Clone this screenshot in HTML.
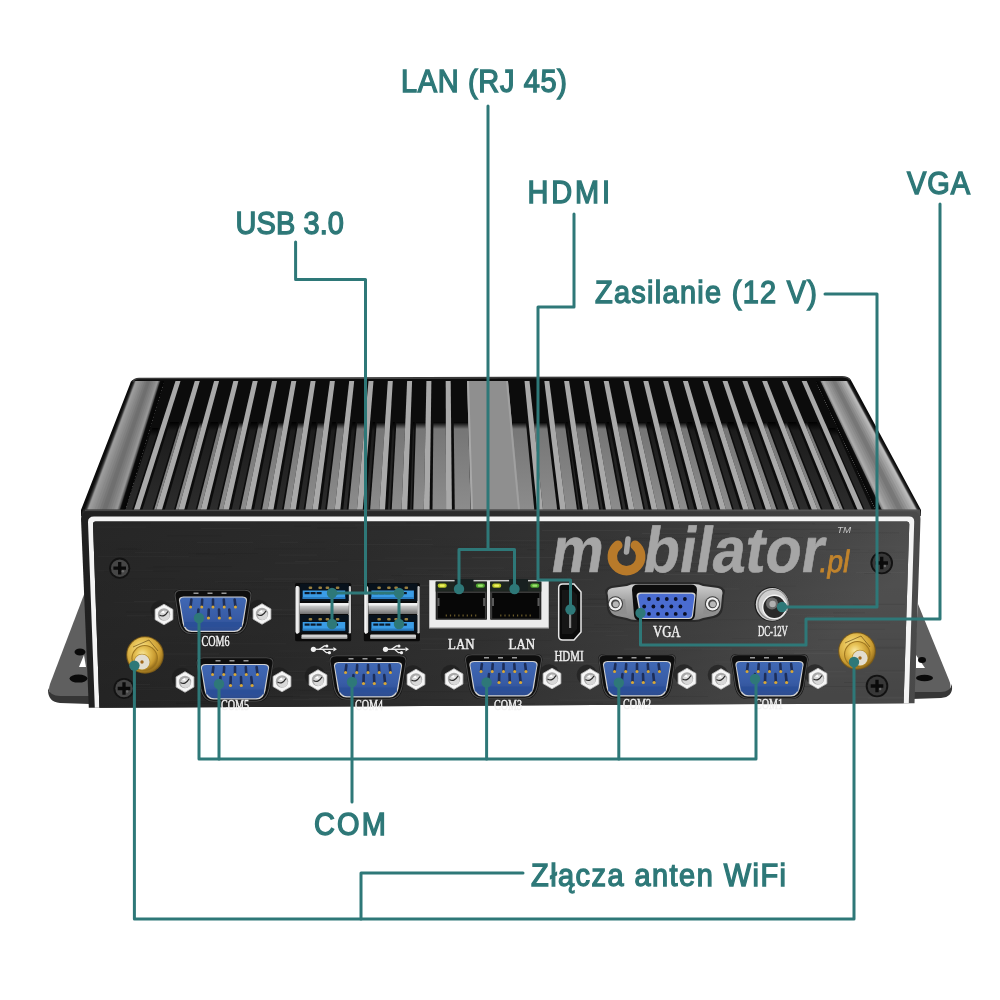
<!DOCTYPE html>
<html><head><meta charset="utf-8"><style>
html,body{margin:0;padding:0;background:#fff;width:1000px;height:1000px;overflow:hidden}
svg{display:block;will-change:transform}
</style></head><body>
<svg width="1000" height="1000" viewBox="0 0 1000 1000">
<defs>
<linearGradient id="gPanel" x1="0" y1="0" x2="1" y2="0">
 <stop offset="0" stop-color="#232323"/>
 <stop offset="0.45" stop-color="#303030"/>
 <stop offset="0.75" stop-color="#3e3e3e"/>
 <stop offset="1" stop-color="#4a4a4a"/>
</linearGradient>
<linearGradient id="gEdgeL" x1="0" y1="0" x2="1" y2="0">
 <stop offset="0" stop-color="#111"/>
 <stop offset="0.12" stop-color="#3a3a3a"/>
 <stop offset="0.45" stop-color="#9a9a9a"/>
 <stop offset="0.7" stop-color="#5a5a5a"/>
 <stop offset="0.85" stop-color="#1a1a1a"/>
 <stop offset="1" stop-color="#050505"/>
</linearGradient>
<linearGradient id="gEdgeR" x1="0" y1="0" x2="1" y2="0">
 <stop offset="0" stop-color="#050505"/>
 <stop offset="0.15" stop-color="#1a1a1a"/>
 <stop offset="0.35" stop-color="#8a8a8a"/>
 <stop offset="0.6" stop-color="#a5a5a5"/>
 <stop offset="0.85" stop-color="#3a3a3a"/>
 <stop offset="1" stop-color="#111"/>
</linearGradient>
<linearGradient id="gBlue" x1="0" y1="0" x2="0" y2="1">
 <stop offset="0" stop-color="#4068b4"/>
 <stop offset="0.6" stop-color="#385ca6"/>
 <stop offset="1" stop-color="#2c4c90"/>
</linearGradient>
<linearGradient id="gUsb" x1="0" y1="0" x2="0" y2="1">
 <stop offset="0" stop-color="#3aa0e8"/>
 <stop offset="1" stop-color="#2a7fc8"/>
</linearGradient>
<radialGradient id="gGold" cx="0.45" cy="0.4" r="0.6">
 <stop offset="0" stop-color="#f4e08a"/>
 <stop offset="0.5" stop-color="#d4b040"/>
 <stop offset="1" stop-color="#9a7a20"/>
</radialGradient>
<radialGradient id="gNut" cx="0.45" cy="0.45" r="0.6">
 <stop offset="0" stop-color="#ffffff"/>
 <stop offset="0.6" stop-color="#d8d8d8"/>
 <stop offset="1" stop-color="#8a8a8a"/>
</radialGradient>
<linearGradient id="gSilver" x1="0" y1="0" x2="0" y2="1">
 <stop offset="0" stop-color="#e8e8e8"/>
 <stop offset="0.5" stop-color="#b0b0b0"/>
 <stop offset="1" stop-color="#707070"/>
</linearGradient>
<linearGradient id="gBracket" x1="0" y1="0" x2="0" y2="1">
 <stop offset="0" stop-color="#4a4a4a"/>
 <stop offset="1" stop-color="#6a6a6a"/>
</linearGradient>
</defs>
<rect x="0" y="0" width="1000" height="1000" fill="#ffffff"/>
<path d="M85,592 L50,684 Q46,696 58,697 L90,697 Z" fill="#5f5f5f"/>
<path d="M48,690 Q48,702 60,703 L90,704 L90,696 L60,696 Q50,696 48,688 Z" fill="#363636"/>
<path d="M84,655 L79,667 L86,667 Z" fill="#ffffff"/>
<ellipse cx="80" cy="652" rx="5.5" ry="3.5" fill="#0a0a0a"/>
<ellipse cx="78.5" cy="678.6" rx="9" ry="4" fill="#0a0a0a"/>
<path d="M918,604 L949,680 Q954,692 942,693 L912,693 Z" fill="#5f5f5f"/>
<path d="M952,686 Q953,697 941,698 L912,699 L912,692 L941,692 Q950,692 952,684 Z" fill="#363636"/>
<path d="M916,655 L925,668 L916,668 Z" fill="#ffffff"/>
<ellipse cx="922" cy="660" rx="4" ry="3" fill="#0a0a0a"/>
<ellipse cx="924.5" cy="678" rx="8.5" ry="3.2" fill="#0a0a0a"/>
<path d="M130,384 Q131,379 137,379 L843,377 Q850,377 852,382 L921,510 L921,516 L81,516 L81,510 Z" fill="#0c0c0c"/>
<linearGradient id="gMed" x1="0" y1="0" x2="0" y2="1"><stop offset="0" stop-color="#000"/><stop offset="0.08" stop-color="#767676"/><stop offset="1" stop-color="#8c8c8c"/></linearGradient>
<linearGradient id="gDark" x1="0" y1="0" x2="0" y2="1"><stop offset="0" stop-color="#000"/><stop offset="0.1" stop-color="#1c1c1c"/><stop offset="1" stop-color="#2c2c2c"/></linearGradient>
<polygon points="170.1,422.0 179.0,422.0 152.3,510.0 142.4,510.0" fill="url(#gDark)" />
<polygon points="180.6,422.0 182.5,422.0 156.1,510.0 154.0,510.0" fill="url(#gMed)" />
<polygon points="190.4,422.0 198.6,422.0 173.9,510.0 164.8,510.0" fill="url(#gDark)" />
<polygon points="200.2,422.0 202.8,422.0 178.4,510.0 175.6,510.0" fill="url(#gMed)" />
<polygon points="210.6,422.0 218.3,422.0 195.5,510.0 187.1,510.0" fill="url(#gDark)" />
<polygon points="219.8,422.0 223.0,422.0 200.7,510.0 197.2,510.0" fill="url(#gMed)" />
<polygon points="230.9,422.0 237.9,422.0 217.1,510.0 209.4,510.0" fill="url(#gDark)" />
<polygon points="239.5,422.0 243.3,422.0 223.0,510.0 218.8,510.0" fill="url(#gMed)" />
<polygon points="251.1,422.0 257.5,422.0 238.7,510.0 231.7,510.0" fill="url(#gDark)" />
<polygon points="259.1,422.0 263.5,422.0 245.3,510.0 240.4,510.0" fill="url(#gMed)" />
<polygon points="271.4,422.0 277.1,422.0 260.3,510.0 254.0,510.0" fill="url(#gDark)" />
<polygon points="278.7,422.0 283.8,422.0 267.6,510.0 262.0,510.0" fill="url(#gMed)" />
<polygon points="291.7,422.0 296.7,422.0 281.9,510.0 276.3,510.0" fill="url(#gDark)" />
<polygon points="298.3,422.0 304.0,422.0 289.9,510.0 283.7,510.0" fill="url(#gMed)" />
<polygon points="311.9,422.0 316.4,422.0 303.5,510.0 298.6,510.0" fill="url(#gDark)" />
<polygon points="317.9,422.0 324.3,422.0 312.3,510.0 305.3,510.0" fill="url(#gMed)" />
<polygon points="332.2,422.0 336.0,422.0 325.1,510.0 320.9,510.0" fill="url(#gDark)" />
<polygon points="337.6,422.0 344.5,422.0 334.6,510.0 326.9,510.0" fill="url(#gMed)" />
<polygon points="352.4,422.0 355.6,422.0 346.7,510.0 343.2,510.0" fill="url(#gDark)" />
<polygon points="357.2,422.0 364.8,422.0 356.9,510.0 348.5,510.0" fill="url(#gMed)" />
<polygon points="372.7,422.0 375.2,422.0 368.4,510.0 365.5,510.0" fill="url(#gDark)" />
<polygon points="376.8,422.0 385.1,422.0 379.2,510.0 370.1,510.0" fill="url(#gMed)" />
<polygon points="392.9,422.0 394.8,422.0 390.0,510.0 387.9,510.0" fill="url(#gDark)" />
<polygon points="396.4,422.0 405.3,422.0 401.5,510.0 391.7,510.0" fill="url(#gMed)" />
<polygon points="413.2,422.0 414.5,422.0 411.6,510.0 410.2,510.0" fill="url(#gDark)" />
<polygon points="416.0,422.0 425.6,422.0 423.8,510.0 413.3,510.0" fill="url(#gMed)" />
<polygon points="433.4,422.0 445.8,422.0 446.1,510.0 432.5,510.0" fill="url(#gMed)" />
<polygon points="453.7,422.0 468.2,422.0 470.7,510.0 454.8,510.0" fill="url(#gMed)" />
<polygon points="175.5,381.0 180.5,381.0 139.6,510.0 133.8,510.0" fill="#a9a9a9" />
<polygon points="194.8,381.0 199.8,381.0 161.9,510.0 156.1,510.0" fill="#a9a9a9" />
<polygon points="214.1,381.0 219.1,381.0 184.2,510.0 178.4,510.0" fill="#a9a9a9" />
<polygon points="233.4,381.0 238.4,381.0 206.5,510.0 200.7,510.0" fill="#a9a9a9" />
<polygon points="252.7,381.0 257.7,381.0 228.8,510.0 223.0,510.0" fill="#a9a9a9" />
<polygon points="272.0,381.0 277.0,381.0 251.1,510.0 245.3,510.0" fill="#a9a9a9" />
<polygon points="291.3,381.0 296.3,381.0 273.4,510.0 267.6,510.0" fill="#a9a9a9" />
<polygon points="310.6,381.0 315.6,381.0 295.7,510.0 289.9,510.0" fill="#a9a9a9" />
<polygon points="329.9,381.0 334.9,381.0 318.0,510.0 312.3,510.0" fill="#a9a9a9" />
<polygon points="349.2,381.0 354.2,381.0 340.3,510.0 334.6,510.0" fill="#a9a9a9" />
<polygon points="368.5,381.0 373.5,381.0 362.7,510.0 356.9,510.0" fill="#a9a9a9" />
<polygon points="387.8,381.0 392.8,381.0 385.0,510.0 379.2,510.0" fill="#a9a9a9" />
<polygon points="407.1,381.0 412.1,381.0 407.3,510.0 401.5,510.0" fill="#a9a9a9" />
<polygon points="426.4,381.0 431.4,381.0 429.6,510.0 423.8,510.0" fill="#a9a9a9" />
<polygon points="445.7,381.0 450.7,381.0 451.9,510.0 446.1,510.0" fill="#a9a9a9" />
<polygon points="152.4,428.0 158.7,428.0 132.0,510.0 125.1,510.0" fill="url(#gDark)" />
<polygon points="511.2,422.0 525.9,422.0 534.3,510.0 518.1,510.0" fill="url(#gMed)" />
<polygon points="533.8,422.0 546.7,422.0 557.2,510.0 543.0,510.0" fill="url(#gMed)" />
<polygon points="566.2,422.0 567.5,422.0 580.1,510.0 578.7,510.0" fill="url(#gDark)" />
<polygon points="554.6,422.0 564.6,422.0 577.0,510.0 565.9,510.0" fill="url(#gMed)" />
<polygon points="586.4,422.0 588.3,422.0 603.0,510.0 600.9,510.0" fill="url(#gDark)" />
<polygon points="575.4,422.0 584.8,422.0 599.2,510.0 588.8,510.0" fill="url(#gMed)" />
<polygon points="606.5,422.0 609.0,422.0 625.9,510.0 623.1,510.0" fill="url(#gDark)" />
<polygon points="596.1,422.0 604.9,422.0 621.3,510.0 611.7,510.0" fill="url(#gMed)" />
<polygon points="626.6,422.0 629.8,422.0 648.8,510.0 645.3,510.0" fill="url(#gDark)" />
<polygon points="616.9,422.0 625.1,422.0 643.5,510.0 634.5,510.0" fill="url(#gMed)" />
<polygon points="646.8,422.0 650.6,422.0 671.7,510.0 667.4,510.0" fill="url(#gDark)" />
<polygon points="637.7,422.0 645.2,422.0 665.7,510.0 657.4,510.0" fill="url(#gMed)" />
<polygon points="666.9,422.0 671.4,422.0 694.5,510.0 689.6,510.0" fill="url(#gDark)" />
<polygon points="658.5,422.0 665.4,422.0 687.9,510.0 680.3,510.0" fill="url(#gMed)" />
<polygon points="687.1,422.0 692.2,422.0 717.4,510.0 711.8,510.0" fill="url(#gDark)" />
<polygon points="679.3,422.0 685.5,422.0 710.1,510.0 703.2,510.0" fill="url(#gMed)" />
<polygon points="707.2,422.0 713.0,422.0 740.3,510.0 734.0,510.0" fill="url(#gDark)" />
<polygon points="700.0,422.0 705.6,422.0 732.3,510.0 726.1,510.0" fill="url(#gMed)" />
<polygon points="727.4,422.0 733.7,422.0 763.2,510.0 756.2,510.0" fill="url(#gDark)" />
<polygon points="720.8,422.0 725.8,422.0 754.5,510.0 749.0,510.0" fill="url(#gMed)" />
<polygon points="747.5,422.0 754.5,422.0 786.1,510.0 778.4,510.0" fill="url(#gDark)" />
<polygon points="741.6,422.0 745.9,422.0 776.6,510.0 771.9,510.0" fill="url(#gMed)" />
<polygon points="767.7,422.0 775.3,422.0 809.0,510.0 800.6,510.0" fill="url(#gDark)" />
<polygon points="762.4,422.0 766.1,422.0 798.8,510.0 794.8,510.0" fill="url(#gMed)" />
<polygon points="787.8,422.0 796.1,422.0 831.9,510.0 822.8,510.0" fill="url(#gDark)" />
<polygon points="783.2,422.0 786.2,422.0 821.0,510.0 817.7,510.0" fill="url(#gMed)" />
<polygon points="807.9,422.0 816.9,422.0 854.8,510.0 844.9,510.0" fill="url(#gDark)" />
<polygon points="804.0,422.0 806.4,422.0 843.2,510.0 840.5,510.0" fill="url(#gMed)" />
<polygon points="524.5,381.0 529.5,381.0 543.0,510.0 537.2,510.0" fill="#a9a9a9" />
<polygon points="544.3,381.0 549.3,381.0 565.9,510.0 560.1,510.0" fill="#a9a9a9" />
<polygon points="564.1,381.0 569.1,381.0 588.8,510.0 583.0,510.0" fill="#a9a9a9" />
<polygon points="583.9,381.0 588.9,381.0 611.7,510.0 605.9,510.0" fill="#a9a9a9" />
<polygon points="603.7,381.0 608.7,381.0 634.5,510.0 628.8,510.0" fill="#a9a9a9" />
<polygon points="623.5,381.0 628.5,381.0 657.4,510.0 651.7,510.0" fill="#a9a9a9" />
<polygon points="643.3,381.0 648.3,381.0 680.3,510.0 674.5,510.0" fill="#a9a9a9" />
<polygon points="663.1,381.0 668.1,381.0 703.2,510.0 697.4,510.0" fill="#a9a9a9" />
<polygon points="682.9,381.0 687.9,381.0 726.1,510.0 720.3,510.0" fill="#a9a9a9" />
<polygon points="702.7,381.0 707.7,381.0 749.0,510.0 743.2,510.0" fill="#a9a9a9" />
<polygon points="722.5,381.0 727.5,381.0 771.9,510.0 766.1,510.0" fill="#a9a9a9" />
<polygon points="742.3,381.0 747.3,381.0 794.8,510.0 789.0,510.0" fill="#a9a9a9" />
<polygon points="762.1,381.0 767.1,381.0 817.7,510.0 811.9,510.0" fill="#a9a9a9" />
<polygon points="781.9,381.0 786.9,381.0 840.5,510.0 834.8,510.0" fill="#a9a9a9" />
<polygon points="801.7,381.0 806.7,381.0 863.4,510.0 857.7,510.0" fill="#a9a9a9" />
<polygon points="828.7,428.0 835.1,428.0 871.9,510.0 864.9,510.0" fill="url(#gDark)" />
<polygon points="467.0,381.0 508.0,381.0 520.0,510.0 471.0,510.0" fill="#8f8f8f" />
<polygon points="467.0,381.0 469.0,381.0 473.0,510.0 471.0,510.0" fill="#a8a8a8" />
<polygon points="506.0,381.0 508.0,381.0 520.0,510.0 518.0,510.0" fill="#a0a0a0" />
<linearGradient id="gEL" gradientUnits="userSpaceOnUse" x1="0" y1="0" x2="1" y2="0"></linearGradient>
<polygon points="133.0,381.0 164.0,381.0 125.0,510.0 84.0,510.0" fill="#161616" />
<polygon points="133.4,381.0 164.0,381.0 125.0,510.0 84.5,510.0" fill="#202020" />
<polygon points="133.8,381.0 164.0,381.0 125.0,510.0 85.0,510.0" fill="#2a2a2a" />
<polygon points="134.2,381.0 164.0,381.0 125.0,510.0 85.5,510.0" fill="#343434" />
<polygon points="134.6,381.0 164.0,381.0 125.0,510.0 86.0,510.0" fill="#464646" />
<polygon points="134.9,381.0 164.0,381.0 125.0,510.0 86.6,510.0" fill="#606060" />
<polygon points="135.3,381.0 164.0,381.0 125.0,510.0 87.1,510.0" fill="#797979" />
<polygon points="135.7,381.0 164.0,381.0 125.0,510.0 87.6,510.0" fill="#939393" />
<polygon points="136.1,381.0 164.0,381.0 125.0,510.0 88.1,510.0" fill="#9d9d9d" />
<polygon points="137.3,381.0 164.0,381.0 125.0,510.0 89.6,510.0" fill="#999999" />
<polygon points="138.4,381.0 164.0,381.0 125.0,510.0 91.2,510.0" fill="#949494" />
<polygon points="139.6,381.0 164.0,381.0 125.0,510.0 92.7,510.0" fill="#909090" />
<polygon points="140.8,381.0 164.0,381.0 125.0,510.0 94.2,510.0" fill="#898989" />
<polygon points="142.7,381.0 164.0,381.0 125.0,510.0 96.8,510.0" fill="#818181" />
<polygon points="144.6,381.0 164.0,381.0 125.0,510.0 99.4,510.0" fill="#787878" />
<polygon points="146.6,381.0 164.0,381.0 125.0,510.0 101.9,510.0" fill="#707070" />
<polygon points="148.5,381.0 164.0,381.0 125.0,510.0 104.5,510.0" fill="#6f6f6f" />
<polygon points="150.2,381.0 164.0,381.0 125.0,510.0 106.8,510.0" fill="#777777" />
<polygon points="151.9,381.0 164.0,381.0 125.0,510.0 109.0,510.0" fill="#7e7e7e" />
<polygon points="153.6,381.0 164.0,381.0 125.0,510.0 111.3,510.0" fill="#868686" />
<polygon points="155.3,381.0 164.0,381.0 125.0,510.0 113.5,510.0" fill="#8c8c8c" />
<polygon points="155.9,381.0 164.0,381.0 125.0,510.0 114.3,510.0" fill="#909090" />
<polygon points="156.6,381.0 164.0,381.0 125.0,510.0 115.2,510.0" fill="#949494" />
<polygon points="157.2,381.0 164.0,381.0 125.0,510.0 116.0,510.0" fill="#989898" />
<polygon points="157.8,381.0 164.0,381.0 125.0,510.0 116.8,510.0" fill="#909090" />
<polygon points="158.3,381.0 164.0,381.0 125.0,510.0 117.4,510.0" fill="#7e7e7e" />
<polygon points="158.7,381.0 164.0,381.0 125.0,510.0 118.0,510.0" fill="#6b6b6b" />
<polygon points="159.2,381.0 164.0,381.0 125.0,510.0 118.6,510.0" fill="#595959" />
<polygon points="159.7,381.0 164.0,381.0 125.0,510.0 119.3,510.0" fill="#474747" />
<polygon points="159.9,381.0 164.0,381.0 125.0,510.0 119.6,510.0" fill="#353535" />
<polygon points="160.1,381.0 164.0,381.0 125.0,510.0 119.9,510.0" fill="#242424" />
<polygon points="160.4,381.0 164.0,381.0 125.0,510.0 120.2,510.0" fill="#121212" />
<polygon points="160.6,381.0 164.0,381.0 125.0,510.0 120.5,510.0" fill="#090909" />
<polygon points="161.4,381.0 164.0,381.0 125.0,510.0 121.6,510.0" fill="#080808" />
<polygon points="162.3,381.0 164.0,381.0 125.0,510.0 122.7,510.0" fill="#070707" />
<polygon points="163.1,381.0 164.0,381.0 125.0,510.0 123.9,510.0" fill="#060606" />
<polygon points="849.0,381.0 816.0,381.0 876.0,510.0 920.0,510.0" fill="#151515" />
<polygon points="848.6,381.0 816.0,381.0 876.0,510.0 919.5,510.0" fill="#1d1d1d" />
<polygon points="848.2,381.0 816.0,381.0 876.0,510.0 918.9,510.0" fill="#262626" />
<polygon points="847.8,381.0 816.0,381.0 876.0,510.0 918.4,510.0" fill="#2e2e2e" />
<polygon points="847.4,381.0 816.0,381.0 876.0,510.0 917.8,510.0" fill="#444444" />
<polygon points="847.0,381.0 816.0,381.0 876.0,510.0 917.4,510.0" fill="#676767" />
<polygon points="846.7,381.0 816.0,381.0 876.0,510.0 916.9,510.0" fill="#8b8b8b" />
<polygon points="846.4,381.0 816.0,381.0 876.0,510.0 916.5,510.0" fill="#aeaeae" />
<polygon points="846.0,381.0 816.0,381.0 876.0,510.0 916.0,510.0" fill="#bdbdbd" />
<polygon points="845.1,381.0 816.0,381.0 876.0,510.0 914.8,510.0" fill="#b7b7b7" />
<polygon points="844.2,381.0 816.0,381.0 876.0,510.0 913.6,510.0" fill="#b1b1b1" />
<polygon points="843.3,381.0 816.0,381.0 876.0,510.0 912.4,510.0" fill="#ababab" />
<polygon points="842.4,381.0 816.0,381.0 876.0,510.0 911.2,510.0" fill="#a1a1a1" />
<polygon points="840.3,381.0 816.0,381.0 876.0,510.0 908.5,510.0" fill="#939393" />
<polygon points="838.3,381.0 816.0,381.0 876.0,510.0 905.7,510.0" fill="#868686" />
<polygon points="836.2,381.0 816.0,381.0 876.0,510.0 903.0,510.0" fill="#787878" />
<polygon points="834.1,381.0 816.0,381.0 876.0,510.0 900.2,510.0" fill="#777777" />
<polygon points="832.1,381.0 816.0,381.0 876.0,510.0 897.5,510.0" fill="#818181" />
<polygon points="830.0,381.0 816.0,381.0 876.0,510.0 894.7,510.0" fill="#8b8b8b" />
<polygon points="828.0,381.0 816.0,381.0 876.0,510.0 892.0,510.0" fill="#959595" />
<polygon points="825.9,381.0 816.0,381.0 876.0,510.0 889.2,510.0" fill="#9c9c9c" />
<polygon points="825.1,381.0 816.0,381.0 876.0,510.0 888.1,510.0" fill="#a2a2a2" />
<polygon points="824.2,381.0 816.0,381.0 876.0,510.0 887.0,510.0" fill="#a7a7a7" />
<polygon points="823.4,381.0 816.0,381.0 876.0,510.0 885.9,510.0" fill="#adadad" />
<polygon points="822.6,381.0 816.0,381.0 876.0,510.0 884.8,510.0" fill="#a9a9a9" />
<polygon points="822.1,381.0 816.0,381.0 876.0,510.0 884.1,510.0" fill="#9b9b9b" />
<polygon points="821.6,381.0 816.0,381.0 876.0,510.0 883.5,510.0" fill="#8e8e8e" />
<polygon points="821.1,381.0 816.0,381.0 876.0,510.0 882.8,510.0" fill="#808080" />
<polygon points="820.6,381.0 816.0,381.0 876.0,510.0 882.2,510.0" fill="#6c6c6c" />
<polygon points="820.5,381.0 816.0,381.0 876.0,510.0 881.9,510.0" fill="#515151" />
<polygon points="820.3,381.0 816.0,381.0 876.0,510.0 881.7,510.0" fill="#363636" />
<polygon points="820.1,381.0 816.0,381.0 876.0,510.0 881.5,510.0" fill="#1b1b1b" />
<polygon points="820.0,381.0 816.0,381.0 876.0,510.0 881.3,510.0" fill="#0d0d0d" />
<polygon points="819.0,381.0 816.0,381.0 876.0,510.0 880.0,510.0" fill="#0b0b0b" />
<polygon points="818.0,381.0 816.0,381.0 876.0,510.0 878.6,510.0" fill="#090909" />
<polygon points="817.0,381.0 816.0,381.0 876.0,510.0 877.3,510.0" fill="#070707" />
<path d="M133,382 Q134,378.5 139,378.5 L842,376.8 Q848,376.8 850,380" fill="none" stroke="#3a3a3a" stroke-width="1.6"/>
<linearGradient id="gBand" x1="0" y1="0" x2="1" y2="0"><stop offset="0" stop-color="#262626"/><stop offset="0.5" stop-color="#333"/><stop offset="1" stop-color="#505050"/></linearGradient>
<path d="M83,509.5 L920,509.5 L921,516 L81,516 Z" fill="url(#gBand)"/>
<path d="M85,510.3 L918,510.3" stroke="#5a5a5a" stroke-width="1" opacity="0.8"/>
<linearGradient id="gBorder" x1="0" y1="0" x2="1" y2="0"><stop offset="0" stop-color="#202020"/><stop offset="0.5" stop-color="#2c2c2c"/><stop offset="1" stop-color="#4a4a4a"/></linearGradient>
<path d="M81,519 Q81,511.5 89,511.5 L913,511.5 Q920.5,511.5 920.5,519 L914.5,703.3 L88.8,707.8 Z" fill="url(#gBorder)"/>
<path d="M94.8,707.8 L88,522 Q88,516.5 94,516.5 L909,516.5 Q914.5,516.5 914.2,522 L908.8,703.3 L903.6,703.3 L909.3,524 Q909.3,521.5 907,521.5 L95.5,521.5 Q93,521.5 93,524 L99.4,707.8 Z" fill="#f4f4f4"/>
<linearGradient id="gPanel2" x1="0" y1="0" x2="1" y2="0.25"><stop offset="0" stop-color="#262626"/><stop offset="0.35" stop-color="#2c2c2c"/><stop offset="0.6" stop-color="#353535"/><stop offset="0.85" stop-color="#454545"/><stop offset="1" stop-color="#525252"/></linearGradient>
<path d="M99.4,707.8 L93,524 Q93,521.5 95.5,521.5 L907,521.5 Q909.3,521.5 909.3,524 L903.6,703.3 Z" fill="url(#gPanel2)"/>
<linearGradient id="gShade" x1="0" y1="0" x2="0" y2="1"><stop offset="0" stop-color="#000" stop-opacity="0"/><stop offset="0.5" stop-color="#000" stop-opacity="0.06"/><stop offset="1" stop-color="#000" stop-opacity="0.16"/></linearGradient>
<path d="M99.4,707.8 L93,524 Q93,521.5 95.5,521.5 L907,521.5 Q909.3,521.5 909.3,524 L903.6,703.3 Z" fill="url(#gShade)"/>
<g><path d="M215,581.9 H292" stroke="#ffffff" stroke-opacity="0.028" stroke-width="1"/><path d="M141,589.6 H204" stroke="#ffffff" stroke-opacity="0.026" stroke-width="1"/><path d="M167,535.7 H222" stroke="#000000" stroke-opacity="0.036" stroke-width="1"/><path d="M594,563.6 H699" stroke="#000000" stroke-opacity="0.050" stroke-width="1"/><path d="M132,700.7 H229" stroke="#ffffff" stroke-opacity="0.019" stroke-width="1"/><path d="M340,544.4 H433" stroke="#ffffff" stroke-opacity="0.030" stroke-width="1"/><path d="M391,639.3 H458" stroke="#ffffff" stroke-opacity="0.016" stroke-width="1"/><path d="M636,560.5 H692" stroke="#ffffff" stroke-opacity="0.030" stroke-width="1"/><path d="M333,605.5 H424" stroke="#000000" stroke-opacity="0.042" stroke-width="1"/><path d="M513,627.5 H611" stroke="#000000" stroke-opacity="0.044" stroke-width="1"/><path d="M189,701.4 H244" stroke="#000000" stroke-opacity="0.038" stroke-width="1"/><path d="M126,612.0 H205" stroke="#000000" stroke-opacity="0.059" stroke-width="1"/><path d="M344,682.3 H425" stroke="#000000" stroke-opacity="0.059" stroke-width="1"/><path d="M763,606.0 H868" stroke="#ffffff" stroke-opacity="0.032" stroke-width="1"/><path d="M653,534.0 H729" stroke="#000000" stroke-opacity="0.071" stroke-width="1"/><path d="M402,574.8 H480" stroke="#ffffff" stroke-opacity="0.027" stroke-width="1"/><path d="M188,553.6 H209" stroke="#000000" stroke-opacity="0.036" stroke-width="1"/><path d="M406,568.1 H504" stroke="#ffffff" stroke-opacity="0.026" stroke-width="1"/><path d="M797,623.0 H890" stroke="#000000" stroke-opacity="0.044" stroke-width="1"/><path d="M380,598.6 H479" stroke="#000000" stroke-opacity="0.038" stroke-width="1"/><path d="M279,555.1 H317" stroke="#ffffff" stroke-opacity="0.030" stroke-width="1"/><path d="M98,570.8 H153" stroke="#ffffff" stroke-opacity="0.029" stroke-width="1"/><path d="M644,696.5 H708" stroke="#000000" stroke-opacity="0.064" stroke-width="1"/><path d="M810,532.8 H899" stroke="#000000" stroke-opacity="0.070" stroke-width="1"/><path d="M412,594.4 H437" stroke="#000000" stroke-opacity="0.033" stroke-width="1"/><path d="M261,535.3 H291" stroke="#ffffff" stroke-opacity="0.016" stroke-width="1"/><path d="M215,523.0 H240" stroke="#ffffff" stroke-opacity="0.016" stroke-width="1"/><path d="M583,682.1 H612" stroke="#ffffff" stroke-opacity="0.024" stroke-width="1"/><path d="M193,589.3 H288" stroke="#000000" stroke-opacity="0.053" stroke-width="1"/><path d="M163,611.1 H188" stroke="#ffffff" stroke-opacity="0.022" stroke-width="1"/><path d="M223,673.9 H241" stroke="#000000" stroke-opacity="0.056" stroke-width="1"/><path d="M527,549.7 H544" stroke="#000000" stroke-opacity="0.079" stroke-width="1"/><path d="M648,680.1 H688" stroke="#ffffff" stroke-opacity="0.019" stroke-width="1"/><path d="M518,663.5 H607" stroke="#ffffff" stroke-opacity="0.021" stroke-width="1"/><path d="M878,670.7 H905" stroke="#000000" stroke-opacity="0.071" stroke-width="1"/><path d="M275,657.7 H339" stroke="#ffffff" stroke-opacity="0.016" stroke-width="1"/><path d="M317,528.1 H357" stroke="#000000" stroke-opacity="0.078" stroke-width="1"/><path d="M840,604.4 H905" stroke="#000000" stroke-opacity="0.048" stroke-width="1"/><path d="M275,563.1 H309" stroke="#ffffff" stroke-opacity="0.031" stroke-width="1"/><path d="M763,686.9 H824" stroke="#000000" stroke-opacity="0.070" stroke-width="1"/><path d="M620,538.4 H722" stroke="#000000" stroke-opacity="0.068" stroke-width="1"/><path d="M237,610.0 H327" stroke="#ffffff" stroke-opacity="0.035" stroke-width="1"/><path d="M410,699.8 H463" stroke="#000000" stroke-opacity="0.066" stroke-width="1"/><path d="M196,553.9 H225" stroke="#000000" stroke-opacity="0.070" stroke-width="1"/><path d="M752,549.6 H860" stroke="#000000" stroke-opacity="0.048" stroke-width="1"/><path d="M199,622.9 H215" stroke="#000000" stroke-opacity="0.062" stroke-width="1"/><path d="M837,618.8 H893" stroke="#000000" stroke-opacity="0.071" stroke-width="1"/><path d="M295,561.4 H338" stroke="#ffffff" stroke-opacity="0.030" stroke-width="1"/><path d="M428,570.2 H456" stroke="#000000" stroke-opacity="0.048" stroke-width="1"/><path d="M559,606.4 H660" stroke="#ffffff" stroke-opacity="0.038" stroke-width="1"/><path d="M518,614.3 H583" stroke="#ffffff" stroke-opacity="0.026" stroke-width="1"/><path d="M98,556.3 H189" stroke="#ffffff" stroke-opacity="0.027" stroke-width="1"/><path d="M537,655.0 H583" stroke="#000000" stroke-opacity="0.058" stroke-width="1"/><path d="M179,665.7 H248" stroke="#ffffff" stroke-opacity="0.022" stroke-width="1"/><path d="M499,663.6 H567" stroke="#000000" stroke-opacity="0.076" stroke-width="1"/><path d="M582,603.7 H645" stroke="#000000" stroke-opacity="0.065" stroke-width="1"/><path d="M519,605.3 H579" stroke="#000000" stroke-opacity="0.065" stroke-width="1"/><path d="M844,682.5 H884" stroke="#000000" stroke-opacity="0.077" stroke-width="1"/><path d="M204,675.9 H231" stroke="#ffffff" stroke-opacity="0.017" stroke-width="1"/><path d="M153,566.8 H232" stroke="#000000" stroke-opacity="0.075" stroke-width="1"/><path d="M664,551.1 H742" stroke="#ffffff" stroke-opacity="0.037" stroke-width="1"/><path d="M270,699.1 H375" stroke="#ffffff" stroke-opacity="0.027" stroke-width="1"/><path d="M757,703.2 H787" stroke="#ffffff" stroke-opacity="0.028" stroke-width="1"/><path d="M251,584.7 H296" stroke="#000000" stroke-opacity="0.031" stroke-width="1"/><path d="M445,623.8 H462" stroke="#ffffff" stroke-opacity="0.031" stroke-width="1"/><path d="M146,616.2 H255" stroke="#000000" stroke-opacity="0.079" stroke-width="1"/><path d="M306,542.1 H325" stroke="#000000" stroke-opacity="0.044" stroke-width="1"/><path d="M431,546.6 H532" stroke="#000000" stroke-opacity="0.043" stroke-width="1"/><path d="M826,550.2 H895" stroke="#000000" stroke-opacity="0.034" stroke-width="1"/><path d="M642,533.5 H698" stroke="#ffffff" stroke-opacity="0.038" stroke-width="1"/><path d="M732,638.5 H755" stroke="#000000" stroke-opacity="0.033" stroke-width="1"/><path d="M456,680.0 H503" stroke="#000000" stroke-opacity="0.076" stroke-width="1"/><path d="M198,571.8 H263" stroke="#ffffff" stroke-opacity="0.018" stroke-width="1"/><path d="M135,552.4 H169" stroke="#ffffff" stroke-opacity="0.023" stroke-width="1"/><path d="M326,661.2 H388" stroke="#ffffff" stroke-opacity="0.024" stroke-width="1"/><path d="M294,526.3 H311" stroke="#000000" stroke-opacity="0.058" stroke-width="1"/><path d="M472,557.5 H576" stroke="#ffffff" stroke-opacity="0.035" stroke-width="1"/><path d="M489,601.7 H583" stroke="#ffffff" stroke-opacity="0.028" stroke-width="1"/><path d="M876,648.2 H905" stroke="#000000" stroke-opacity="0.065" stroke-width="1"/><path d="M417,638.7 H465" stroke="#ffffff" stroke-opacity="0.018" stroke-width="1"/><path d="M684,535.9 H723" stroke="#ffffff" stroke-opacity="0.017" stroke-width="1"/><path d="M787,676.1 H866" stroke="#ffffff" stroke-opacity="0.021" stroke-width="1"/><path d="M460,576.3 H490" stroke="#ffffff" stroke-opacity="0.022" stroke-width="1"/><path d="M868,698.0 H905" stroke="#ffffff" stroke-opacity="0.039" stroke-width="1"/><path d="M378,579.3 H394" stroke="#ffffff" stroke-opacity="0.027" stroke-width="1"/><path d="M255,614.5 H318" stroke="#ffffff" stroke-opacity="0.022" stroke-width="1"/><path d="M413,539.3 H432" stroke="#ffffff" stroke-opacity="0.023" stroke-width="1"/><path d="M561,565.4 H626" stroke="#000000" stroke-opacity="0.063" stroke-width="1"/><path d="M794,653.3 H846" stroke="#ffffff" stroke-opacity="0.040" stroke-width="1"/><path d="M671,550.2 H747" stroke="#ffffff" stroke-opacity="0.036" stroke-width="1"/><path d="M594,685.3 H678" stroke="#000000" stroke-opacity="0.037" stroke-width="1"/><path d="M496,618.3 H590" stroke="#000000" stroke-opacity="0.071" stroke-width="1"/><path d="M805,629.3 H885" stroke="#000000" stroke-opacity="0.041" stroke-width="1"/><path d="M201,528.7 H250" stroke="#ffffff" stroke-opacity="0.036" stroke-width="1"/><path d="M594,624.7 H669" stroke="#000000" stroke-opacity="0.054" stroke-width="1"/><path d="M729,523.6 H815" stroke="#000000" stroke-opacity="0.057" stroke-width="1"/><path d="M148,643.0 H233" stroke="#ffffff" stroke-opacity="0.017" stroke-width="1"/><path d="M675,571.3 H709" stroke="#000000" stroke-opacity="0.079" stroke-width="1"/><path d="M399,612.9 H460" stroke="#000000" stroke-opacity="0.068" stroke-width="1"/><path d="M606,635.3 H628" stroke="#ffffff" stroke-opacity="0.021" stroke-width="1"/><path d="M337,658.3 H406" stroke="#ffffff" stroke-opacity="0.017" stroke-width="1"/><path d="M629,571.9 H710" stroke="#000000" stroke-opacity="0.045" stroke-width="1"/><path d="M464,617.0 H524" stroke="#ffffff" stroke-opacity="0.037" stroke-width="1"/><path d="M873,559.3 H905" stroke="#ffffff" stroke-opacity="0.026" stroke-width="1"/><path d="M865,672.2 H905" stroke="#ffffff" stroke-opacity="0.020" stroke-width="1"/><path d="M263,695.1 H333" stroke="#ffffff" stroke-opacity="0.028" stroke-width="1"/><path d="M200,696.4 H293" stroke="#000000" stroke-opacity="0.074" stroke-width="1"/><path d="M279,651.0 H379" stroke="#ffffff" stroke-opacity="0.016" stroke-width="1"/><path d="M486,523.7 H544" stroke="#ffffff" stroke-opacity="0.019" stroke-width="1"/><path d="M346,585.6 H441" stroke="#ffffff" stroke-opacity="0.034" stroke-width="1"/><path d="M190,675.7 H293" stroke="#000000" stroke-opacity="0.075" stroke-width="1"/><path d="M391,575.7 H443" stroke="#000000" stroke-opacity="0.059" stroke-width="1"/><path d="M435,588.6 H476" stroke="#ffffff" stroke-opacity="0.018" stroke-width="1"/><path d="M322,674.9 H426" stroke="#ffffff" stroke-opacity="0.022" stroke-width="1"/><path d="M246,616.0 H296" stroke="#000000" stroke-opacity="0.074" stroke-width="1"/><path d="M597,670.8 H698" stroke="#000000" stroke-opacity="0.057" stroke-width="1"/><path d="M134,654.0 H219" stroke="#ffffff" stroke-opacity="0.034" stroke-width="1"/><path d="M323,640.3 H342" stroke="#000000" stroke-opacity="0.036" stroke-width="1"/><path d="M368,608.9 H412" stroke="#000000" stroke-opacity="0.079" stroke-width="1"/><path d="M617,570.4 H660" stroke="#000000" stroke-opacity="0.050" stroke-width="1"/><path d="M224,553.5 H258" stroke="#000000" stroke-opacity="0.055" stroke-width="1"/><path d="M815,563.0 H905" stroke="#ffffff" stroke-opacity="0.018" stroke-width="1"/><path d="M167,558.0 H215" stroke="#ffffff" stroke-opacity="0.021" stroke-width="1"/><path d="M548,570.0 H647" stroke="#000000" stroke-opacity="0.051" stroke-width="1"/><path d="M512,598.3 H563" stroke="#ffffff" stroke-opacity="0.017" stroke-width="1"/><path d="M864,573.5 H891" stroke="#000000" stroke-opacity="0.061" stroke-width="1"/><path d="M267,680.0 H307" stroke="#ffffff" stroke-opacity="0.025" stroke-width="1"/><path d="M853,604.1 H905" stroke="#000000" stroke-opacity="0.031" stroke-width="1"/><path d="M659,528.9 H759" stroke="#ffffff" stroke-opacity="0.030" stroke-width="1"/><path d="M406,523.0 H509" stroke="#000000" stroke-opacity="0.073" stroke-width="1"/><path d="M293,699.9 H318" stroke="#ffffff" stroke-opacity="0.028" stroke-width="1"/><path d="M843,647.1 H905" stroke="#000000" stroke-opacity="0.068" stroke-width="1"/><path d="M533,606.2 H552" stroke="#000000" stroke-opacity="0.042" stroke-width="1"/><path d="M608,690.4 H652" stroke="#ffffff" stroke-opacity="0.021" stroke-width="1"/><path d="M650,638.8 H676" stroke="#ffffff" stroke-opacity="0.028" stroke-width="1"/><path d="M404,629.1 H440" stroke="#000000" stroke-opacity="0.031" stroke-width="1"/><path d="M461,577.9 H567" stroke="#000000" stroke-opacity="0.074" stroke-width="1"/><path d="M282,609.5 H320" stroke="#000000" stroke-opacity="0.065" stroke-width="1"/><path d="M112,578.9 H175" stroke="#000000" stroke-opacity="0.051" stroke-width="1"/><path d="M626,569.8 H728" stroke="#ffffff" stroke-opacity="0.016" stroke-width="1"/><path d="M429,584.5 H509" stroke="#ffffff" stroke-opacity="0.035" stroke-width="1"/><path d="M496,657.5 H531" stroke="#000000" stroke-opacity="0.046" stroke-width="1"/><path d="M278,672.2 H315" stroke="#000000" stroke-opacity="0.045" stroke-width="1"/><path d="M489,696.3 H522" stroke="#ffffff" stroke-opacity="0.025" stroke-width="1"/><path d="M849,644.1 H878" stroke="#ffffff" stroke-opacity="0.020" stroke-width="1"/><path d="M208,700.3 H228" stroke="#ffffff" stroke-opacity="0.025" stroke-width="1"/><path d="M797,686.5 H882" stroke="#000000" stroke-opacity="0.077" stroke-width="1"/><path d="M242,582.9 H346" stroke="#000000" stroke-opacity="0.032" stroke-width="1"/><path d="M396,643.9 H447" stroke="#ffffff" stroke-opacity="0.019" stroke-width="1"/><path d="M317,523.5 H366" stroke="#000000" stroke-opacity="0.036" stroke-width="1"/><path d="M260,698.5 H309" stroke="#000000" stroke-opacity="0.071" stroke-width="1"/><path d="M134,601.7 H194" stroke="#ffffff" stroke-opacity="0.038" stroke-width="1"/><path d="M385,558.1 H485" stroke="#ffffff" stroke-opacity="0.025" stroke-width="1"/><path d="M705,670.8 H723" stroke="#ffffff" stroke-opacity="0.017" stroke-width="1"/><path d="M299,690.5 H385" stroke="#000000" stroke-opacity="0.047" stroke-width="1"/><path d="M856,572.6 H905" stroke="#ffffff" stroke-opacity="0.033" stroke-width="1"/><path d="M314,580.6 H329" stroke="#000000" stroke-opacity="0.076" stroke-width="1"/><path d="M845,638.4 H862" stroke="#ffffff" stroke-opacity="0.027" stroke-width="1"/><path d="M853,697.1 H905" stroke="#ffffff" stroke-opacity="0.026" stroke-width="1"/><path d="M833,612.8 H865" stroke="#000000" stroke-opacity="0.067" stroke-width="1"/><path d="M709,672.7 H782" stroke="#ffffff" stroke-opacity="0.023" stroke-width="1"/><path d="M717,588.9 H739" stroke="#ffffff" stroke-opacity="0.034" stroke-width="1"/><path d="M146,568.0 H165" stroke="#000000" stroke-opacity="0.046" stroke-width="1"/><path d="M797,701.4 H905" stroke="#ffffff" stroke-opacity="0.017" stroke-width="1"/><path d="M491,540.5 H574" stroke="#ffffff" stroke-opacity="0.021" stroke-width="1"/><path d="M588,598.9 H667" stroke="#000000" stroke-opacity="0.072" stroke-width="1"/><path d="M191,643.9 H286" stroke="#ffffff" stroke-opacity="0.029" stroke-width="1"/><path d="M682,590.9 H716" stroke="#ffffff" stroke-opacity="0.021" stroke-width="1"/><path d="M798,550.9 H868" stroke="#ffffff" stroke-opacity="0.025" stroke-width="1"/><path d="M498,703.6 H535" stroke="#000000" stroke-opacity="0.063" stroke-width="1"/><path d="M176,703.4 H236" stroke="#000000" stroke-opacity="0.072" stroke-width="1"/><path d="M127,689.4 H170" stroke="#ffffff" stroke-opacity="0.020" stroke-width="1"/><path d="M559,700.1 H662" stroke="#ffffff" stroke-opacity="0.037" stroke-width="1"/><path d="M302,604.7 H391" stroke="#000000" stroke-opacity="0.035" stroke-width="1"/><path d="M588,631.5 H624" stroke="#ffffff" stroke-opacity="0.019" stroke-width="1"/><path d="M298,560.1 H370" stroke="#000000" stroke-opacity="0.040" stroke-width="1"/><path d="M355,525.1 H435" stroke="#ffffff" stroke-opacity="0.023" stroke-width="1"/><path d="M727,560.0 H794" stroke="#ffffff" stroke-opacity="0.018" stroke-width="1"/><path d="M532,594.9 H608" stroke="#ffffff" stroke-opacity="0.019" stroke-width="1"/><path d="M421,649.6 H463" stroke="#ffffff" stroke-opacity="0.039" stroke-width="1"/><path d="M545,579.8 H594" stroke="#ffffff" stroke-opacity="0.037" stroke-width="1"/><path d="M384,704.4 H418" stroke="#000000" stroke-opacity="0.040" stroke-width="1"/><path d="M812,524.1 H867" stroke="#000000" stroke-opacity="0.050" stroke-width="1"/><path d="M461,683.7 H492" stroke="#ffffff" stroke-opacity="0.029" stroke-width="1"/><path d="M818,639.6 H842" stroke="#000000" stroke-opacity="0.049" stroke-width="1"/><path d="M211,614.8 H253" stroke="#000000" stroke-opacity="0.076" stroke-width="1"/><path d="M485,542.8 H576" stroke="#000000" stroke-opacity="0.040" stroke-width="1"/><path d="M845,546.1 H905" stroke="#ffffff" stroke-opacity="0.016" stroke-width="1"/><path d="M403,691.6 H504" stroke="#000000" stroke-opacity="0.071" stroke-width="1"/><path d="M720,552.2 H756" stroke="#ffffff" stroke-opacity="0.036" stroke-width="1"/><path d="M240,673.9 H276" stroke="#ffffff" stroke-opacity="0.028" stroke-width="1"/><path d="M193,592.8 H231" stroke="#000000" stroke-opacity="0.075" stroke-width="1"/><path d="M542,530.5 H629" stroke="#ffffff" stroke-opacity="0.036" stroke-width="1"/><path d="M572,544.4 H639" stroke="#000000" stroke-opacity="0.045" stroke-width="1"/><path d="M558,599.5 H614" stroke="#000000" stroke-opacity="0.052" stroke-width="1"/><path d="M114,602.8 H187" stroke="#ffffff" stroke-opacity="0.021" stroke-width="1"/><path d="M715,662.0 H774" stroke="#ffffff" stroke-opacity="0.027" stroke-width="1"/><path d="M197,542.5 H253" stroke="#ffffff" stroke-opacity="0.026" stroke-width="1"/><path d="M127,615.8 H203" stroke="#ffffff" stroke-opacity="0.033" stroke-width="1"/><path d="M502,664.5 H522" stroke="#000000" stroke-opacity="0.049" stroke-width="1"/><path d="M203,696.1 H300" stroke="#000000" stroke-opacity="0.067" stroke-width="1"/><path d="M249,671.3 H357" stroke="#ffffff" stroke-opacity="0.039" stroke-width="1"/><path d="M226,689.7 H316" stroke="#000000" stroke-opacity="0.033" stroke-width="1"/><path d="M696,586.9 H726" stroke="#000000" stroke-opacity="0.044" stroke-width="1"/><path d="M209,671.4 H272" stroke="#000000" stroke-opacity="0.040" stroke-width="1"/><path d="M497,570.8 H543" stroke="#ffffff" stroke-opacity="0.020" stroke-width="1"/><path d="M839,552.3 H905" stroke="#000000" stroke-opacity="0.038" stroke-width="1"/><path d="M186,665.8 H252" stroke="#000000" stroke-opacity="0.048" stroke-width="1"/><path d="M536,681.9 H606" stroke="#000000" stroke-opacity="0.035" stroke-width="1"/><path d="M596,703.7 H648" stroke="#000000" stroke-opacity="0.043" stroke-width="1"/><path d="M554,703.3 H603" stroke="#000000" stroke-opacity="0.052" stroke-width="1"/><path d="M686,555.2 H706" stroke="#000000" stroke-opacity="0.043" stroke-width="1"/><path d="M877,639.3 H905" stroke="#000000" stroke-opacity="0.046" stroke-width="1"/><path d="M122,523.3 H151" stroke="#000000" stroke-opacity="0.052" stroke-width="1"/><path d="M807,616.3 H834" stroke="#ffffff" stroke-opacity="0.031" stroke-width="1"/><path d="M97,527.1 H146" stroke="#ffffff" stroke-opacity="0.024" stroke-width="1"/><path d="M559,563.8 H630" stroke="#ffffff" stroke-opacity="0.031" stroke-width="1"/><path d="M202,609.4 H306" stroke="#ffffff" stroke-opacity="0.019" stroke-width="1"/><path d="M602,540.4 H700" stroke="#000000" stroke-opacity="0.050" stroke-width="1"/><path d="M104,571.1 H180" stroke="#000000" stroke-opacity="0.048" stroke-width="1"/><path d="M448,640.5 H552" stroke="#000000" stroke-opacity="0.042" stroke-width="1"/><path d="M130,687.4 H195" stroke="#ffffff" stroke-opacity="0.021" stroke-width="1"/><path d="M714,533.6 H730" stroke="#000000" stroke-opacity="0.077" stroke-width="1"/><path d="M254,548.9 H326" stroke="#000000" stroke-opacity="0.062" stroke-width="1"/><path d="M234,671.0 H278" stroke="#ffffff" stroke-opacity="0.016" stroke-width="1"/><path d="M717,684.9 H800" stroke="#ffffff" stroke-opacity="0.036" stroke-width="1"/><path d="M465,658.6 H550" stroke="#ffffff" stroke-opacity="0.021" stroke-width="1"/><path d="M280,542.2 H298" stroke="#ffffff" stroke-opacity="0.034" stroke-width="1"/><path d="M767,649.5 H850" stroke="#ffffff" stroke-opacity="0.029" stroke-width="1"/><path d="M722,602.4 H787" stroke="#ffffff" stroke-opacity="0.031" stroke-width="1"/><path d="M268,698.7 H366" stroke="#ffffff" stroke-opacity="0.022" stroke-width="1"/><path d="M686,566.0 H791" stroke="#000000" stroke-opacity="0.046" stroke-width="1"/><path d="M356,683.2 H394" stroke="#000000" stroke-opacity="0.062" stroke-width="1"/><path d="M624,649.1 H732" stroke="#ffffff" stroke-opacity="0.036" stroke-width="1"/><path d="M777,650.0 H833" stroke="#000000" stroke-opacity="0.059" stroke-width="1"/><path d="M264,579.0 H338" stroke="#ffffff" stroke-opacity="0.038" stroke-width="1"/><path d="M116,549.3 H142" stroke="#000000" stroke-opacity="0.047" stroke-width="1"/><path d="M118,548.8 H137" stroke="#000000" stroke-opacity="0.062" stroke-width="1"/><path d="M681,649.9 H702" stroke="#000000" stroke-opacity="0.048" stroke-width="1"/><path d="M747,671.8 H846" stroke="#ffffff" stroke-opacity="0.037" stroke-width="1"/><path d="M846,689.4 H871" stroke="#ffffff" stroke-opacity="0.018" stroke-width="1"/><path d="M769,529.3 H861" stroke="#000000" stroke-opacity="0.071" stroke-width="1"/><path d="M323,637.9 H348" stroke="#ffffff" stroke-opacity="0.034" stroke-width="1"/><path d="M349,560.3 H404" stroke="#ffffff" stroke-opacity="0.021" stroke-width="1"/><path d="M664,574.4 H714" stroke="#ffffff" stroke-opacity="0.039" stroke-width="1"/><path d="M772,614.7 H846" stroke="#ffffff" stroke-opacity="0.025" stroke-width="1"/><path d="M710,602.4 H757" stroke="#000000" stroke-opacity="0.057" stroke-width="1"/><path d="M780,562.4 H804" stroke="#000000" stroke-opacity="0.039" stroke-width="1"/><path d="M256,523.2 H343" stroke="#000000" stroke-opacity="0.030" stroke-width="1"/><path d="M486,612.3 H576" stroke="#ffffff" stroke-opacity="0.027" stroke-width="1"/><path d="M756,586.2 H796" stroke="#000000" stroke-opacity="0.044" stroke-width="1"/><path d="M651,562.1 H713" stroke="#ffffff" stroke-opacity="0.031" stroke-width="1"/><path d="M721,537.7 H803" stroke="#000000" stroke-opacity="0.061" stroke-width="1"/><path d="M414,587.7 H466" stroke="#000000" stroke-opacity="0.034" stroke-width="1"/><path d="M115,684.7 H150" stroke="#ffffff" stroke-opacity="0.038" stroke-width="1"/><path d="M397,614.2 H496" stroke="#ffffff" stroke-opacity="0.027" stroke-width="1"/><path d="M695,619.7 H781" stroke="#000000" stroke-opacity="0.047" stroke-width="1"/><path d="M218,582.5 H314" stroke="#000000" stroke-opacity="0.067" stroke-width="1"/><path d="M444,553.9 H532" stroke="#000000" stroke-opacity="0.036" stroke-width="1"/><path d="M799,607.1 H836" stroke="#ffffff" stroke-opacity="0.023" stroke-width="1"/></g>
<circle cx="119.7" cy="568.2" r="10.600000000000001" fill="#121212"/>
<circle cx="119.7" cy="568.2" r="8.700000000000001" fill="#464646"/>
<path d="M113.4,568.2 H126.0 M119.7,561.9000000000001 V574.5" stroke="#0a0a0a" stroke-width="3.3"/>
<circle cx="122.9" cy="571.2" r="1.2" fill="#6a6a6a"/>
<circle cx="124" cy="688.5" r="10.600000000000001" fill="#121212"/>
<circle cx="124" cy="688.5" r="8.700000000000001" fill="#464646"/>
<path d="M117.7,688.5 H130.3 M124,682.2 V694.8" stroke="#0a0a0a" stroke-width="3.3"/>
<circle cx="127.2" cy="691.5" r="1.2" fill="#6a6a6a"/>
<circle cx="881.7" cy="563" r="11.3" fill="#121212"/>
<circle cx="881.7" cy="563" r="9.4" fill="#383838"/>
<path d="M875.4000000000001,563 H888.0 M881.7,556.7 V569.3" stroke="#0a0a0a" stroke-width="3.3"/>
<circle cx="884.9000000000001" cy="566" r="1.2" fill="#6a6a6a"/>
<circle cx="877" cy="686" r="11.3" fill="#121212"/>
<circle cx="877" cy="686" r="9.4" fill="#383838"/>
<path d="M870.7,686 H883.3 M877,679.7 V692.3" stroke="#0a0a0a" stroke-width="3.3"/>
<circle cx="880.2" cy="689" r="1.2" fill="#6a6a6a"/>
<circle cx="161" cy="610.5" r="10.3" fill="#1a1a1a" opacity="0.6"/>
<polygon points="172.9,619.6 164.0,624.8 155.1,619.6 155.1,609.4 164.0,604.2 172.9,609.4" fill="#f6f6f6" stroke="#bdbdbd" stroke-width="0.8"/>
<circle cx="164" cy="614.5" r="6.2" fill="#a8a8a8"/>
<circle cx="164.6" cy="615.5" r="5" fill="#d8d8d8"/>
<path d="M159.5,615.0 Q164,618.0 168,611.5" fill="none" stroke="#2a2a2a" stroke-width="1.3"/>
<path d="M161,612.5 L163.5,610.5 L165,613.5 Z" fill="#ffffff"/>
<circle cx="259" cy="610.0" r="10.3" fill="#1a1a1a" opacity="0.6"/>
<polygon points="270.9,619.1 262.0,624.3 253.1,619.1 253.1,608.9 262.0,603.7 270.9,608.9" fill="#f6f6f6" stroke="#bdbdbd" stroke-width="0.8"/>
<circle cx="262" cy="614.0" r="6.2" fill="#a8a8a8"/>
<circle cx="262.6" cy="615.0" r="5" fill="#d8d8d8"/>
<path d="M257.5,614.5 Q262,617.5 266,611.0" fill="none" stroke="#2a2a2a" stroke-width="1.3"/>
<path d="M259,612.0 L261.5,610.0 L263,613.0 Z" fill="#ffffff"/>
<path d="M174.7,598.5 Q172,589.5 181,589.5 L245,589.5 Q254,589.5 251.3,598.5 L248,621.5 Q245.4,634.5 235,634.5 L191,634.5 Q180.6,634.5 178,621.5 Z" fill="#0e0e0e"/>
<path d="M175.55,598.8 Q173,590.3 181.5,590.3 L244.5,590.3 Q253,590.3 250.45,598.8 L247,621.2 Q244.5,633.7 234.5,633.7 L191.5,633.7 Q181.5,633.7 179,621.2 Z" fill="none" stroke="#4a4a4a" stroke-width="1.1"/>
<path d="M179.3,602.5 Q177.5,596.5 183.5,596.5 L242.5,596.5 Q248.5,596.5 246.7,602.5 L243.5,623.0 Q241.7,632.0 234.5,632.0 L191.5,632.0 Q184.3,632.0 182.5,623.0 Z" fill="#d0d0d0"/>
<path d="M180.35,603.0 Q178.7,597.5 184.2,597.5 L241.8,597.5 Q247.3,597.5 245.65,603.0 L242.3,622.3 Q240.60000000000002,630.8 233.8,630.8 L192.2,630.8 Q185.39999999999998,630.8 183.7,622.3 Z" fill="url(#gBlue)"/>
<path d="M184,624.5 L242,624.5" stroke="#2a4f98" stroke-width="5" opacity="0.8"/>
<path d="M191.4,599.5 L190.536,606.5" stroke="#1e2e58" stroke-width="2.6" stroke-linecap="round"/>
<circle cx="190.536" cy="607.0" r="1.5" fill="#d8a838"/>
<path d="M202.20000000000002,599.5 L201.76800000000003,606.5" stroke="#1e2e58" stroke-width="2.6" stroke-linecap="round"/>
<circle cx="201.76800000000003" cy="607.0" r="1.5" fill="#d8a838"/>
<path d="M213.0,599.5 L213.0,606.5" stroke="#1e2e58" stroke-width="2.6" stroke-linecap="round"/>
<circle cx="213.0" cy="607.0" r="1.5" fill="#d8a838"/>
<path d="M223.8,599.5 L224.232,606.5" stroke="#1e2e58" stroke-width="2.6" stroke-linecap="round"/>
<circle cx="224.232" cy="607.0" r="1.5" fill="#d8a838"/>
<path d="M234.60000000000002,599.5 L235.46400000000003,606.5" stroke="#1e2e58" stroke-width="2.6" stroke-linecap="round"/>
<circle cx="235.46400000000003" cy="607.0" r="1.5" fill="#d8a838"/>
<path d="M198.46499999999997,609.5 L197.7,617.5" stroke="#1e2e58" stroke-width="2.6" stroke-linecap="round"/>
<circle cx="197.7" cy="618.0" r="1.6" fill="#d8a838"/>
<path d="M208.725,609.5 L208.5,617.5" stroke="#1e2e58" stroke-width="2.6" stroke-linecap="round"/>
<circle cx="208.5" cy="618.0" r="1.6" fill="#d8a838"/>
<path d="M218.98499999999999,609.5 L219.29999999999998,617.5" stroke="#1e2e58" stroke-width="2.6" stroke-linecap="round"/>
<circle cx="219.29999999999998" cy="618.0" r="1.6" fill="#d8a838"/>
<path d="M229.245,609.5 L230.1,617.5" stroke="#1e2e58" stroke-width="2.6" stroke-linecap="round"/>
<circle cx="230.1" cy="618.0" r="1.6" fill="#d8a838"/>
<rect x="193.5" y="592.5" width="5" height="1.5" fill="#9a9a9a"/>
<rect x="207.5" y="592.5" width="5" height="1.5" fill="#9a9a9a"/>
<rect x="221.5" y="592.5" width="5" height="1.5" fill="#9a9a9a"/>
<text x="201.5" y="646" font-family="Liberation Serif, serif" font-size="15" fill="#f2f2f2" stroke="#f2f2f2" stroke-width="0.45" textLength="28" lengthAdjust="spacingAndGlyphs">COM6</text>
<circle cx="182" cy="678" r="10.3" fill="#1a1a1a" opacity="0.6"/>
<polygon points="193.9,687.1 185.0,692.3 176.1,687.1 176.1,676.9 185.0,671.7 193.9,676.9" fill="#f6f6f6" stroke="#bdbdbd" stroke-width="0.8"/>
<circle cx="185" cy="682" r="6.2" fill="#a8a8a8"/>
<circle cx="185.6" cy="683" r="5" fill="#d8d8d8"/>
<path d="M180.5,682.5 Q185,685.5 189,679" fill="none" stroke="#2a2a2a" stroke-width="1.3"/>
<path d="M182,680 L184.5,678 L186,681 Z" fill="#ffffff"/>
<circle cx="279" cy="677.5" r="10.3" fill="#1a1a1a" opacity="0.6"/>
<polygon points="290.9,686.6 282.0,691.8 273.1,686.6 273.1,676.4 282.0,671.2 290.9,676.4" fill="#f6f6f6" stroke="#bdbdbd" stroke-width="0.8"/>
<circle cx="282" cy="681.5" r="6.2" fill="#a8a8a8"/>
<circle cx="282.6" cy="682.5" r="5" fill="#d8d8d8"/>
<path d="M277.5,682.0 Q282,685.0 286,678.5" fill="none" stroke="#2a2a2a" stroke-width="1.3"/>
<path d="M279,679.5 L281.5,677.5 L283,680.5 Z" fill="#ffffff"/>
<path d="M196.7,666 Q194,657 203,657 L267,657 Q276,657 273.3,666 L270,689 Q267.4,702 257,702 L213,702 Q202.6,702 200,689 Z" fill="#0e0e0e"/>
<path d="M197.55,666.3 Q195,657.8 203.5,657.8 L266.5,657.8 Q275,657.8 272.45,666.3 L269,688.7 Q266.5,701.2 256.5,701.2 L213.5,701.2 Q203.5,701.2 201,688.7 Z" fill="none" stroke="#4a4a4a" stroke-width="1.1"/>
<path d="M201.3,670 Q199.5,664 205.5,664 L264.5,664 Q270.5,664 268.7,670 L265.5,690.5 Q263.7,699.5 256.5,699.5 L213.5,699.5 Q206.3,699.5 204.5,690.5 Z" fill="#d0d0d0"/>
<path d="M202.35,670.5 Q200.7,665 206.2,665 L263.8,665 Q269.3,665 267.65000000000003,670.5 L264.3,689.8 Q262.6,698.3 255.8,698.3 L214.2,698.3 Q207.39999999999998,698.3 205.7,689.8 Z" fill="url(#gBlue)"/>
<path d="M206,692 L264,692" stroke="#2a4f98" stroke-width="5" opacity="0.8"/>
<path d="M213.4,667 L212.536,674" stroke="#1e2e58" stroke-width="2.6" stroke-linecap="round"/>
<circle cx="212.536" cy="674.5" r="1.5" fill="#d8a838"/>
<path d="M224.20000000000002,667 L223.76800000000003,674" stroke="#1e2e58" stroke-width="2.6" stroke-linecap="round"/>
<circle cx="223.76800000000003" cy="674.5" r="1.5" fill="#d8a838"/>
<path d="M235.0,667 L235.0,674" stroke="#1e2e58" stroke-width="2.6" stroke-linecap="round"/>
<circle cx="235.0" cy="674.5" r="1.5" fill="#d8a838"/>
<path d="M245.8,667 L246.232,674" stroke="#1e2e58" stroke-width="2.6" stroke-linecap="round"/>
<circle cx="246.232" cy="674.5" r="1.5" fill="#d8a838"/>
<path d="M256.6,667 L257.464,674" stroke="#1e2e58" stroke-width="2.6" stroke-linecap="round"/>
<circle cx="257.464" cy="674.5" r="1.5" fill="#d8a838"/>
<path d="M220.46499999999997,677 L219.7,685" stroke="#1e2e58" stroke-width="2.6" stroke-linecap="round"/>
<circle cx="219.7" cy="685.5" r="1.6" fill="#d8a838"/>
<path d="M230.725,677 L230.5,685" stroke="#1e2e58" stroke-width="2.6" stroke-linecap="round"/>
<circle cx="230.5" cy="685.5" r="1.6" fill="#d8a838"/>
<path d="M240.98499999999999,677 L241.29999999999998,685" stroke="#1e2e58" stroke-width="2.6" stroke-linecap="round"/>
<circle cx="241.29999999999998" cy="685.5" r="1.6" fill="#d8a838"/>
<path d="M251.245,677 L252.1,685" stroke="#1e2e58" stroke-width="2.6" stroke-linecap="round"/>
<circle cx="252.1" cy="685.5" r="1.6" fill="#d8a838"/>
<rect x="215.5" y="660" width="5" height="1.5" fill="#9a9a9a"/>
<rect x="229.5" y="660" width="5" height="1.5" fill="#9a9a9a"/>
<rect x="243.5" y="660" width="5" height="1.5" fill="#9a9a9a"/>
<text x="221" y="710" font-family="Liberation Serif, serif" font-size="15" fill="#f2f2f2" stroke="#f2f2f2" stroke-width="0.45" textLength="28" lengthAdjust="spacingAndGlyphs">COM5</text>
<circle cx="315" cy="676" r="10.3" fill="#1a1a1a" opacity="0.6"/>
<polygon points="326.9,685.1 318.0,690.3 309.1,685.1 309.1,674.9 318.0,669.7 326.9,674.9" fill="#f6f6f6" stroke="#bdbdbd" stroke-width="0.8"/>
<circle cx="318" cy="680" r="6.2" fill="#a8a8a8"/>
<circle cx="318.6" cy="681" r="5" fill="#d8d8d8"/>
<path d="M313.5,680.5 Q318,683.5 322,677" fill="none" stroke="#2a2a2a" stroke-width="1.3"/>
<path d="M315,678 L317.5,676 L319,679 Z" fill="#ffffff"/>
<circle cx="413" cy="675.5" r="10.3" fill="#1a1a1a" opacity="0.6"/>
<polygon points="424.9,684.6 416.0,689.8 407.1,684.6 407.1,674.4 416.0,669.2 424.9,674.4" fill="#f6f6f6" stroke="#bdbdbd" stroke-width="0.8"/>
<circle cx="416" cy="679.5" r="6.2" fill="#a8a8a8"/>
<circle cx="416.6" cy="680.5" r="5" fill="#d8d8d8"/>
<path d="M411.5,680.0 Q416,683.0 420,676.5" fill="none" stroke="#2a2a2a" stroke-width="1.3"/>
<path d="M413,677.5 L415.5,675.5 L417,678.5 Z" fill="#ffffff"/>
<path d="M329.7,664 Q327,655 336,655 L400,655 Q409,655 406.3,664 L403,687 Q400.4,700 390,700 L346,700 Q335.6,700 333,687 Z" fill="#0e0e0e"/>
<path d="M330.55,664.3 Q328,655.8 336.5,655.8 L399.5,655.8 Q408,655.8 405.45,664.3 L402,686.7 Q399.5,699.2 389.5,699.2 L346.5,699.2 Q336.5,699.2 334,686.7 Z" fill="none" stroke="#4a4a4a" stroke-width="1.1"/>
<path d="M334.3,668 Q332.5,662 338.5,662 L397.5,662 Q403.5,662 401.7,668 L398.5,688.5 Q396.7,697.5 389.5,697.5 L346.5,697.5 Q339.3,697.5 337.5,688.5 Z" fill="#d0d0d0"/>
<path d="M335.34999999999997,668.5 Q333.7,663 339.2,663 L396.8,663 Q402.3,663 400.65000000000003,668.5 L397.3,687.8 Q395.6,696.3 388.8,696.3 L347.2,696.3 Q340.4,696.3 338.7,687.8 Z" fill="url(#gBlue)"/>
<path d="M339,690 L397,690" stroke="#2a4f98" stroke-width="5" opacity="0.8"/>
<path d="M346.4,665 L345.536,672" stroke="#1e2e58" stroke-width="2.6" stroke-linecap="round"/>
<circle cx="345.536" cy="672.5" r="1.5" fill="#d8a838"/>
<path d="M357.2,665 L356.768,672" stroke="#1e2e58" stroke-width="2.6" stroke-linecap="round"/>
<circle cx="356.768" cy="672.5" r="1.5" fill="#d8a838"/>
<path d="M368.0,665 L368.0,672" stroke="#1e2e58" stroke-width="2.6" stroke-linecap="round"/>
<circle cx="368.0" cy="672.5" r="1.5" fill="#d8a838"/>
<path d="M378.79999999999995,665 L379.23199999999997,672" stroke="#1e2e58" stroke-width="2.6" stroke-linecap="round"/>
<circle cx="379.23199999999997" cy="672.5" r="1.5" fill="#d8a838"/>
<path d="M389.59999999999997,665 L390.46399999999994,672" stroke="#1e2e58" stroke-width="2.6" stroke-linecap="round"/>
<circle cx="390.46399999999994" cy="672.5" r="1.5" fill="#d8a838"/>
<path d="M353.465,675 L352.7,683" stroke="#1e2e58" stroke-width="2.6" stroke-linecap="round"/>
<circle cx="352.7" cy="683.5" r="1.6" fill="#d8a838"/>
<path d="M363.725,675 L363.5,683" stroke="#1e2e58" stroke-width="2.6" stroke-linecap="round"/>
<circle cx="363.5" cy="683.5" r="1.6" fill="#d8a838"/>
<path d="M373.985,675 L374.3,683" stroke="#1e2e58" stroke-width="2.6" stroke-linecap="round"/>
<circle cx="374.3" cy="683.5" r="1.6" fill="#d8a838"/>
<path d="M384.245,675 L385.1,683" stroke="#1e2e58" stroke-width="2.6" stroke-linecap="round"/>
<circle cx="385.1" cy="683.5" r="1.6" fill="#d8a838"/>
<rect x="348.5" y="658" width="5" height="1.5" fill="#9a9a9a"/>
<rect x="362.5" y="658" width="5" height="1.5" fill="#9a9a9a"/>
<rect x="376.5" y="658" width="5" height="1.5" fill="#9a9a9a"/>
<text x="355" y="710" font-family="Liberation Serif, serif" font-size="15" fill="#f2f2f2" stroke="#f2f2f2" stroke-width="0.45" textLength="28" lengthAdjust="spacingAndGlyphs">COM4</text>
<circle cx="451" cy="675" r="10.3" fill="#1a1a1a" opacity="0.6"/>
<polygon points="462.9,684.1 454.0,689.3 445.1,684.1 445.1,673.9 454.0,668.7 462.9,673.9" fill="#f6f6f6" stroke="#bdbdbd" stroke-width="0.8"/>
<circle cx="454" cy="679" r="6.2" fill="#a8a8a8"/>
<circle cx="454.6" cy="680" r="5" fill="#d8d8d8"/>
<path d="M449.5,679.5 Q454,682.5 458,676" fill="none" stroke="#2a2a2a" stroke-width="1.3"/>
<path d="M451,677 L453.5,675 L455,678 Z" fill="#ffffff"/>
<circle cx="549" cy="674.5" r="10.3" fill="#1a1a1a" opacity="0.6"/>
<polygon points="560.9,683.6 552.0,688.8 543.1,683.6 543.1,673.4 552.0,668.2 560.9,673.4" fill="#f6f6f6" stroke="#bdbdbd" stroke-width="0.8"/>
<circle cx="552" cy="678.5" r="6.2" fill="#a8a8a8"/>
<circle cx="552.6" cy="679.5" r="5" fill="#d8d8d8"/>
<path d="M547.5,679.0 Q552,682.0 556,675.5" fill="none" stroke="#2a2a2a" stroke-width="1.3"/>
<path d="M549,676.5 L551.5,674.5 L553,677.5 Z" fill="#ffffff"/>
<path d="M465.2,663 Q462.5,654 471.5,654 L535.5,654 Q544.5,654 541.8,663 L538.5,686 Q535.9,699 525.5,699 L481.5,699 Q471.1,699 468.5,686 Z" fill="#0e0e0e"/>
<path d="M466.05,663.3 Q463.5,654.8 472.0,654.8 L535.0,654.8 Q543.5,654.8 540.95,663.3 L537.5,685.7 Q535.0,698.2 525.0,698.2 L482.0,698.2 Q472.0,698.2 469.5,685.7 Z" fill="none" stroke="#4a4a4a" stroke-width="1.1"/>
<path d="M469.8,667 Q468.0,661 474.0,661 L533.0,661 Q539.0,661 537.2,667 L534.0,687.5 Q532.2,696.5 525.0,696.5 L482.0,696.5 Q474.8,696.5 473.0,687.5 Z" fill="#d0d0d0"/>
<path d="M470.84999999999997,667.5 Q469.2,662 474.7,662 L532.3,662 Q537.8,662 536.15,667.5 L532.8,686.8 Q531.0999999999999,695.3 524.3,695.3 L482.7,695.3 Q475.9,695.3 474.2,686.8 Z" fill="url(#gBlue)"/>
<path d="M474.5,689 L532.5,689" stroke="#2a4f98" stroke-width="5" opacity="0.8"/>
<path d="M481.9,664 L481.036,671" stroke="#1e2e58" stroke-width="2.6" stroke-linecap="round"/>
<circle cx="481.036" cy="671.5" r="1.5" fill="#d8a838"/>
<path d="M492.7,664 L492.268,671" stroke="#1e2e58" stroke-width="2.6" stroke-linecap="round"/>
<circle cx="492.268" cy="671.5" r="1.5" fill="#d8a838"/>
<path d="M503.5,664 L503.5,671" stroke="#1e2e58" stroke-width="2.6" stroke-linecap="round"/>
<circle cx="503.5" cy="671.5" r="1.5" fill="#d8a838"/>
<path d="M514.3,664 L514.732,671" stroke="#1e2e58" stroke-width="2.6" stroke-linecap="round"/>
<circle cx="514.732" cy="671.5" r="1.5" fill="#d8a838"/>
<path d="M525.1,664 L525.964,671" stroke="#1e2e58" stroke-width="2.6" stroke-linecap="round"/>
<circle cx="525.964" cy="671.5" r="1.5" fill="#d8a838"/>
<path d="M488.965,674 L488.2,682" stroke="#1e2e58" stroke-width="2.6" stroke-linecap="round"/>
<circle cx="488.2" cy="682.5" r="1.6" fill="#d8a838"/>
<path d="M499.225,674 L499.0,682" stroke="#1e2e58" stroke-width="2.6" stroke-linecap="round"/>
<circle cx="499.0" cy="682.5" r="1.6" fill="#d8a838"/>
<path d="M509.485,674 L509.8,682" stroke="#1e2e58" stroke-width="2.6" stroke-linecap="round"/>
<circle cx="509.8" cy="682.5" r="1.6" fill="#d8a838"/>
<path d="M519.745,674 L520.6,682" stroke="#1e2e58" stroke-width="2.6" stroke-linecap="round"/>
<circle cx="520.6" cy="682.5" r="1.6" fill="#d8a838"/>
<rect x="484.0" y="657" width="5" height="1.5" fill="#9a9a9a"/>
<rect x="498.0" y="657" width="5" height="1.5" fill="#9a9a9a"/>
<rect x="512.0" y="657" width="5" height="1.5" fill="#9a9a9a"/>
<text x="494" y="710" font-family="Liberation Serif, serif" font-size="15" fill="#f2f2f2" stroke="#f2f2f2" stroke-width="0.45" textLength="28" lengthAdjust="spacingAndGlyphs">COM3</text>
<circle cx="587" cy="675" r="10.3" fill="#1a1a1a" opacity="0.6"/>
<polygon points="598.9,684.1 590.0,689.3 581.1,684.1 581.1,673.9 590.0,668.7 598.9,673.9" fill="#f6f6f6" stroke="#bdbdbd" stroke-width="0.8"/>
<circle cx="590" cy="679" r="6.2" fill="#a8a8a8"/>
<circle cx="590.6" cy="680" r="5" fill="#d8d8d8"/>
<path d="M585.5,679.5 Q590,682.5 594,676" fill="none" stroke="#2a2a2a" stroke-width="1.3"/>
<path d="M587,677 L589.5,675 L591,678 Z" fill="#ffffff"/>
<circle cx="684" cy="674.5" r="10.3" fill="#1a1a1a" opacity="0.6"/>
<polygon points="695.9,683.6 687.0,688.8 678.1,683.6 678.1,673.4 687.0,668.2 695.9,673.4" fill="#f6f6f6" stroke="#bdbdbd" stroke-width="0.8"/>
<circle cx="687" cy="678.5" r="6.2" fill="#a8a8a8"/>
<circle cx="687.6" cy="679.5" r="5" fill="#d8d8d8"/>
<path d="M682.5,679.0 Q687,682.0 691,675.5" fill="none" stroke="#2a2a2a" stroke-width="1.3"/>
<path d="M684,676.5 L686.5,674.5 L688,677.5 Z" fill="#ffffff"/>
<path d="M598.7,663 Q596,654 605,654 L669,654 Q678,654 675.3,663 L672,686 Q669.4,699 659,699 L615,699 Q604.6,699 602,686 Z" fill="#0e0e0e"/>
<path d="M599.55,663.3 Q597,654.8 605.5,654.8 L668.5,654.8 Q677,654.8 674.45,663.3 L671,685.7 Q668.5,698.2 658.5,698.2 L615.5,698.2 Q605.5,698.2 603,685.7 Z" fill="none" stroke="#4a4a4a" stroke-width="1.1"/>
<path d="M603.3,667 Q601.5,661 607.5,661 L666.5,661 Q672.5,661 670.7,667 L667.5,687.5 Q665.7,696.5 658.5,696.5 L615.5,696.5 Q608.3,696.5 606.5,687.5 Z" fill="#d0d0d0"/>
<path d="M604.35,667.5 Q602.7,662 608.2,662 L665.8,662 Q671.3,662 669.65,667.5 L666.3,686.8 Q664.5999999999999,695.3 657.8,695.3 L616.2,695.3 Q609.4000000000001,695.3 607.7,686.8 Z" fill="url(#gBlue)"/>
<path d="M608,689 L666,689" stroke="#2a4f98" stroke-width="5" opacity="0.8"/>
<path d="M615.4,664 L614.536,671" stroke="#1e2e58" stroke-width="2.6" stroke-linecap="round"/>
<circle cx="614.536" cy="671.5" r="1.5" fill="#d8a838"/>
<path d="M626.1999999999999,664 L625.7679999999999,671" stroke="#1e2e58" stroke-width="2.6" stroke-linecap="round"/>
<circle cx="625.7679999999999" cy="671.5" r="1.5" fill="#d8a838"/>
<path d="M637.0,664 L637.0,671" stroke="#1e2e58" stroke-width="2.6" stroke-linecap="round"/>
<circle cx="637.0" cy="671.5" r="1.5" fill="#d8a838"/>
<path d="M647.8,664 L648.232,671" stroke="#1e2e58" stroke-width="2.6" stroke-linecap="round"/>
<circle cx="648.232" cy="671.5" r="1.5" fill="#d8a838"/>
<path d="M658.6,664 L659.464,671" stroke="#1e2e58" stroke-width="2.6" stroke-linecap="round"/>
<circle cx="659.464" cy="671.5" r="1.5" fill="#d8a838"/>
<path d="M622.465,674 L621.7,682" stroke="#1e2e58" stroke-width="2.6" stroke-linecap="round"/>
<circle cx="621.7" cy="682.5" r="1.6" fill="#d8a838"/>
<path d="M632.725,674 L632.5,682" stroke="#1e2e58" stroke-width="2.6" stroke-linecap="round"/>
<circle cx="632.5" cy="682.5" r="1.6" fill="#d8a838"/>
<path d="M642.985,674 L643.3000000000001,682" stroke="#1e2e58" stroke-width="2.6" stroke-linecap="round"/>
<circle cx="643.3000000000001" cy="682.5" r="1.6" fill="#d8a838"/>
<path d="M653.245,674 L654.1,682" stroke="#1e2e58" stroke-width="2.6" stroke-linecap="round"/>
<circle cx="654.1" cy="682.5" r="1.6" fill="#d8a838"/>
<rect x="617.5" y="657" width="5" height="1.5" fill="#9a9a9a"/>
<rect x="631.5" y="657" width="5" height="1.5" fill="#9a9a9a"/>
<rect x="645.5" y="657" width="5" height="1.5" fill="#9a9a9a"/>
<text x="623" y="709" font-family="Liberation Serif, serif" font-size="15" fill="#f2f2f2" stroke="#f2f2f2" stroke-width="0.45" textLength="28" lengthAdjust="spacingAndGlyphs">COM2</text>
<circle cx="718" cy="675" r="10.3" fill="#1a1a1a" opacity="0.6"/>
<polygon points="729.9,684.1 721.0,689.3 712.1,684.1 712.1,673.9 721.0,668.7 729.9,673.9" fill="#f6f6f6" stroke="#bdbdbd" stroke-width="0.8"/>
<circle cx="721" cy="679" r="6.2" fill="#a8a8a8"/>
<circle cx="721.6" cy="680" r="5" fill="#d8d8d8"/>
<path d="M716.5,679.5 Q721,682.5 725,676" fill="none" stroke="#2a2a2a" stroke-width="1.3"/>
<path d="M718,677 L720.5,675 L722,678 Z" fill="#ffffff"/>
<circle cx="815" cy="674.5" r="10.3" fill="#1a1a1a" opacity="0.6"/>
<polygon points="826.9,683.6 818.0,688.8 809.1,683.6 809.1,673.4 818.0,668.2 826.9,673.4" fill="#f6f6f6" stroke="#bdbdbd" stroke-width="0.8"/>
<circle cx="818" cy="678.5" r="6.2" fill="#a8a8a8"/>
<circle cx="818.6" cy="679.5" r="5" fill="#d8d8d8"/>
<path d="M813.5,679.0 Q818,682.0 822,675.5" fill="none" stroke="#2a2a2a" stroke-width="1.3"/>
<path d="M815,676.5 L817.5,674.5 L819,677.5 Z" fill="#ffffff"/>
<path d="M731.2,663 Q728.5,654 737.5,654 L801.5,654 Q810.5,654 807.8,663 L804.5,686 Q801.9,699 791.5,699 L747.5,699 Q737.1,699 734.5,686 Z" fill="#0e0e0e"/>
<path d="M732.05,663.3 Q729.5,654.8 738.0,654.8 L801.0,654.8 Q809.5,654.8 806.95,663.3 L803.5,685.7 Q801.0,698.2 791.0,698.2 L748.0,698.2 Q738.0,698.2 735.5,685.7 Z" fill="none" stroke="#4a4a4a" stroke-width="1.1"/>
<path d="M735.8,667 Q734.0,661 740.0,661 L799.0,661 Q805.0,661 803.2,667 L800.0,687.5 Q798.2,696.5 791.0,696.5 L748.0,696.5 Q740.8,696.5 739.0,687.5 Z" fill="#d0d0d0"/>
<path d="M736.85,667.5 Q735.2,662 740.7,662 L798.3,662 Q803.8,662 802.15,667.5 L798.8,686.8 Q797.0999999999999,695.3 790.3,695.3 L748.7,695.3 Q741.9000000000001,695.3 740.2,686.8 Z" fill="url(#gBlue)"/>
<path d="M740.5,689 L798.5,689" stroke="#2a4f98" stroke-width="5" opacity="0.8"/>
<path d="M747.9,664 L747.036,671" stroke="#1e2e58" stroke-width="2.6" stroke-linecap="round"/>
<circle cx="747.036" cy="671.5" r="1.5" fill="#d8a838"/>
<path d="M758.6999999999999,664 L758.2679999999999,671" stroke="#1e2e58" stroke-width="2.6" stroke-linecap="round"/>
<circle cx="758.2679999999999" cy="671.5" r="1.5" fill="#d8a838"/>
<path d="M769.5,664 L769.5,671" stroke="#1e2e58" stroke-width="2.6" stroke-linecap="round"/>
<circle cx="769.5" cy="671.5" r="1.5" fill="#d8a838"/>
<path d="M780.3,664 L780.732,671" stroke="#1e2e58" stroke-width="2.6" stroke-linecap="round"/>
<circle cx="780.732" cy="671.5" r="1.5" fill="#d8a838"/>
<path d="M791.1,664 L791.964,671" stroke="#1e2e58" stroke-width="2.6" stroke-linecap="round"/>
<circle cx="791.964" cy="671.5" r="1.5" fill="#d8a838"/>
<path d="M754.965,674 L754.2,682" stroke="#1e2e58" stroke-width="2.6" stroke-linecap="round"/>
<circle cx="754.2" cy="682.5" r="1.6" fill="#d8a838"/>
<path d="M765.225,674 L765.0,682" stroke="#1e2e58" stroke-width="2.6" stroke-linecap="round"/>
<circle cx="765.0" cy="682.5" r="1.6" fill="#d8a838"/>
<path d="M775.485,674 L775.8000000000001,682" stroke="#1e2e58" stroke-width="2.6" stroke-linecap="round"/>
<circle cx="775.8000000000001" cy="682.5" r="1.6" fill="#d8a838"/>
<path d="M785.745,674 L786.6,682" stroke="#1e2e58" stroke-width="2.6" stroke-linecap="round"/>
<circle cx="786.6" cy="682.5" r="1.6" fill="#d8a838"/>
<rect x="750.0" y="657" width="5" height="1.5" fill="#9a9a9a"/>
<rect x="764.0" y="657" width="5" height="1.5" fill="#9a9a9a"/>
<rect x="778.0" y="657" width="5" height="1.5" fill="#9a9a9a"/>
<text x="755" y="709" font-family="Liberation Serif, serif" font-size="15" fill="#f2f2f2" stroke="#f2f2f2" stroke-width="0.45" textLength="28" lengthAdjust="spacingAndGlyphs">COM1</text>
<rect x="295.1" y="583" width="56.1" height="58.3" rx="1.5" fill="#0a0a0a"/>
<rect x="295.40000000000003" y="586" width="4.2" height="47.6" rx="2" fill="#d8d8d8"/>
<rect x="296.3" y="586" width="1.4" height="47.6" fill="#f8f8f8"/>
<rect x="348.40000000000003" y="586" width="2.6" height="47.6" rx="1.3" fill="#c8c8c8"/>
<rect x="300.1" y="583.5" width="48.6" height="17.5" fill="#08121c"/>
<rect x="308.6" y="586.5" width="3.6" height="2.4" rx="1" fill="#9a8040"/>
<rect x="318.40000000000003" y="586.5" width="3.6" height="2.4" rx="1" fill="#9a8040"/>
<rect x="325.6" y="586.5" width="3.6" height="2.4" rx="1" fill="#9a8040"/>
<rect x="335.8" y="586.5" width="3.6" height="2.4" rx="1" fill="#9a8040"/>
<rect x="302.70000000000005" y="590.5" width="42.5" height="8.5" fill="#3a9ce6"/>
<rect x="302.70000000000005" y="597.0" width="42.5" height="2" fill="#2a7cc0"/>
<rect x="304.6" y="592.0" width="5" height="2.2" fill="#0c1a2a"/>
<rect x="310.6" y="592.0" width="5" height="2.2" fill="#0c1a2a"/>
<rect x="316.6" y="592.0" width="5" height="2.2" fill="#0c1a2a"/>
<rect x="333.1" y="592.0" width="5" height="2.2" fill="#0c1a2a"/>
<rect x="300.1" y="615" width="48.6" height="17.5" fill="#08121c"/>
<rect x="308.6" y="618" width="3.6" height="2.4" rx="1" fill="#9a8040"/>
<rect x="318.40000000000003" y="618" width="3.6" height="2.4" rx="1" fill="#9a8040"/>
<rect x="325.6" y="618" width="3.6" height="2.4" rx="1" fill="#9a8040"/>
<rect x="335.8" y="618" width="3.6" height="2.4" rx="1" fill="#9a8040"/>
<rect x="302.70000000000005" y="622" width="42.5" height="8.5" fill="#3a9ce6"/>
<rect x="302.70000000000005" y="628.5" width="42.5" height="2" fill="#2a7cc0"/>
<rect x="304.6" y="623.5" width="5" height="2.2" fill="#0c1a2a"/>
<rect x="310.6" y="623.5" width="5" height="2.2" fill="#0c1a2a"/>
<rect x="316.6" y="623.5" width="5" height="2.2" fill="#0c1a2a"/>
<rect x="333.1" y="623.5" width="5" height="2.2" fill="#0c1a2a"/>
<rect x="299.8" y="603" width="48.8" height="11" fill="url(#gSilver)"/>
<rect x="299.8" y="603" width="48.8" height="2.5" fill="#f0f0f0"/>
<rect x="301.5" y="634.5" width="45.8" height="4.2" rx="1" fill="#d0d0d0"/>
<rect x="301.5" y="637.5" width="45.8" height="1.2" fill="#8a8a8a"/>
<rect x="363.8" y="583" width="56.1" height="58.3" rx="1.5" fill="#0a0a0a"/>
<rect x="364.1" y="586" width="4.2" height="47.6" rx="2" fill="#d8d8d8"/>
<rect x="365.0" y="586" width="1.4" height="47.6" fill="#f8f8f8"/>
<rect x="417.1" y="586" width="2.6" height="47.6" rx="1.3" fill="#c8c8c8"/>
<rect x="368.8" y="583.5" width="48.6" height="17.5" fill="#08121c"/>
<rect x="377.3" y="586.5" width="3.6" height="2.4" rx="1" fill="#9a8040"/>
<rect x="387.1" y="586.5" width="3.6" height="2.4" rx="1" fill="#9a8040"/>
<rect x="394.3" y="586.5" width="3.6" height="2.4" rx="1" fill="#9a8040"/>
<rect x="404.5" y="586.5" width="3.6" height="2.4" rx="1" fill="#9a8040"/>
<rect x="371.40000000000003" y="590.5" width="42.5" height="8.5" fill="#3a9ce6"/>
<rect x="371.40000000000003" y="597.0" width="42.5" height="2" fill="#2a7cc0"/>
<rect x="373.3" y="592.0" width="5" height="2.2" fill="#0c1a2a"/>
<rect x="379.3" y="592.0" width="5" height="2.2" fill="#0c1a2a"/>
<rect x="385.3" y="592.0" width="5" height="2.2" fill="#0c1a2a"/>
<rect x="401.8" y="592.0" width="5" height="2.2" fill="#0c1a2a"/>
<rect x="368.8" y="615" width="48.6" height="17.5" fill="#08121c"/>
<rect x="377.3" y="618" width="3.6" height="2.4" rx="1" fill="#9a8040"/>
<rect x="387.1" y="618" width="3.6" height="2.4" rx="1" fill="#9a8040"/>
<rect x="394.3" y="618" width="3.6" height="2.4" rx="1" fill="#9a8040"/>
<rect x="404.5" y="618" width="3.6" height="2.4" rx="1" fill="#9a8040"/>
<rect x="371.40000000000003" y="622" width="42.5" height="8.5" fill="#3a9ce6"/>
<rect x="371.40000000000003" y="628.5" width="42.5" height="2" fill="#2a7cc0"/>
<rect x="373.3" y="623.5" width="5" height="2.2" fill="#0c1a2a"/>
<rect x="379.3" y="623.5" width="5" height="2.2" fill="#0c1a2a"/>
<rect x="385.3" y="623.5" width="5" height="2.2" fill="#0c1a2a"/>
<rect x="401.8" y="623.5" width="5" height="2.2" fill="#0c1a2a"/>
<rect x="368.5" y="603" width="48.8" height="11" fill="url(#gSilver)"/>
<rect x="368.5" y="603" width="48.8" height="2.5" fill="#f0f0f0"/>
<rect x="370.2" y="634.5" width="45.8" height="4.2" rx="1" fill="#d0d0d0"/>
<rect x="370.2" y="637.5" width="45.8" height="1.2" fill="#8a8a8a"/>
<g stroke="#f0f0f0" stroke-width="1.3" fill="#f0f0f0"><circle cx="313.4" cy="649.3" r="2.6" stroke="none"/><path d="M313.4 649.3 H333.4"/><path d="M319.4,649.3 L324.4,645.9 H326.4" fill="none"/><path d="M322.4,649.3 L326.4,652.6999999999999 H328.4" fill="none"/><circle cx="326.9" cy="645.9" r="1.5" stroke="none"/><circle cx="329.4" cy="652.6999999999999" r="1.6" stroke="none"/><path d="M333.4,647.0999999999999 L336.9,649.3 L333.4,651.5 Z" stroke="none"/></g>
<g stroke="#f0f0f0" stroke-width="1.3" fill="#f0f0f0"><circle cx="385.5" cy="649.3" r="2.6" stroke="none"/><path d="M385.5 649.3 H405.5"/><path d="M391.5,649.3 L396.5,645.9 H398.5" fill="none"/><path d="M394.5,649.3 L398.5,652.6999999999999 H400.5" fill="none"/><circle cx="399.0" cy="645.9" r="1.5" stroke="none"/><circle cx="401.5" cy="652.6999999999999" r="1.6" stroke="none"/><path d="M405.5,647.0999999999999 L409.0,649.3 L405.5,651.5 Z" stroke="none"/></g>
<rect x="429" y="580" width="120" height="48.6" fill="#9a9a9a"/>
<rect x="429.6" y="580.4" width="118.8" height="47" fill="#ececec"/>
<rect x="435.7" y="581.6" width="51.2" height="38" fill="#141414"/>
<rect x="435.7" y="581.6" width="51.2" height="10" fill="#1e2620"/>
<rect x="454.6" y="579" width="18.9" height="12" fill="#182020"/>
<rect x="437.7" y="583.6" width="9" height="4.2" rx="2" fill="#b8c828"/>
<rect x="439.7" y="584.6" width="5" height="2.2" rx="1" fill="#f0f060"/>
<rect x="475.9" y="583.6" width="9" height="4.2" rx="2" fill="#50a830"/>
<rect x="477.9" y="584.6" width="5" height="2.2" rx="1" fill="#a0e070"/>
<rect x="436.5" y="591.5" width="49.6" height="28" fill="#3a3a3a"/>
<rect x="437.7" y="593" width="47.2" height="25.5" fill="#070707"/>
<rect x="437.5" y="598" width="2" height="8" fill="#5a5a5a"/>
<rect x="483.09999999999997" y="598" width="2" height="8" fill="#5a5a5a"/>
<rect x="445.7" y="614.5" width="1.2" height="2" fill="#6a5a28"/>
<rect x="449.9" y="614.5" width="1.2" height="2" fill="#6a5a28"/>
<rect x="454.1" y="614.5" width="1.2" height="2" fill="#6a5a28"/>
<rect x="458.3" y="614.5" width="1.2" height="2" fill="#6a5a28"/>
<rect x="462.5" y="614.5" width="1.2" height="2" fill="#6a5a28"/>
<rect x="466.7" y="614.5" width="1.2" height="2" fill="#6a5a28"/>
<rect x="470.9" y="614.5" width="1.2" height="2" fill="#6a5a28"/>
<rect x="475.1" y="614.5" width="1.2" height="2" fill="#6a5a28"/>
<rect x="490.2" y="581.6" width="51.1" height="38" fill="#141414"/>
<rect x="490.2" y="581.6" width="51.1" height="10" fill="#1e2620"/>
<rect x="509.1" y="579" width="18.9" height="12" fill="#182020"/>
<rect x="492.2" y="583.6" width="9" height="4.2" rx="2" fill="#b8c828"/>
<rect x="494.2" y="584.6" width="5" height="2.2" rx="1" fill="#f0f060"/>
<rect x="530.3" y="583.6" width="9" height="4.2" rx="2" fill="#50a830"/>
<rect x="532.3" y="584.6" width="5" height="2.2" rx="1" fill="#a0e070"/>
<rect x="491.0" y="591.5" width="49.5" height="28" fill="#3a3a3a"/>
<rect x="492.2" y="593" width="47.1" height="25.5" fill="#070707"/>
<rect x="492.0" y="598" width="2" height="8" fill="#5a5a5a"/>
<rect x="537.5" y="598" width="2" height="8" fill="#5a5a5a"/>
<rect x="500.2" y="614.5" width="1.2" height="2" fill="#6a5a28"/>
<rect x="504.4" y="614.5" width="1.2" height="2" fill="#6a5a28"/>
<rect x="508.6" y="614.5" width="1.2" height="2" fill="#6a5a28"/>
<rect x="512.8" y="614.5" width="1.2" height="2" fill="#6a5a28"/>
<rect x="517.0" y="614.5" width="1.2" height="2" fill="#6a5a28"/>
<rect x="521.2" y="614.5" width="1.2" height="2" fill="#6a5a28"/>
<rect x="525.4" y="614.5" width="1.2" height="2" fill="#6a5a28"/>
<rect x="529.6" y="614.5" width="1.2" height="2" fill="#6a5a28"/>
<text x="448" y="649.3" font-family="Liberation Serif, serif" font-size="15" fill="#f0f0f0" stroke="#f0f0f0" stroke-width="0.45" textLength="26.5" lengthAdjust="spacingAndGlyphs">LAN</text>
<text x="508.5" y="649.3" font-family="Liberation Serif, serif" font-size="15" fill="#f0f0f0" stroke="#f0f0f0" stroke-width="0.45" textLength="26.5" lengthAdjust="spacingAndGlyphs">LAN</text>
<path d="M558.7,588 Q558.7,584 562.7,584 L574,584 L581,592 L581,632 L574,640 L562.7,640 Q558.7,640 558.7,636 Z" fill="#0a0a0a" stroke="#e8e8e8" stroke-width="1.5"/>
<path d="M562,590 L572,590 L577,595 L577,629 L572,634 L562,634 Z" fill="#161616"/>
<rect x="569" y="595" width="2.2" height="33" fill="#8a8a8a"/>
<text x="554.5" y="660.8" font-family="Liberation Serif, serif" font-size="15" fill="#f0f0f0" stroke="#f0f0f0" stroke-width="0.45" textLength="29" lengthAdjust="spacingAndGlyphs">HDMI</text>
<linearGradient id="gVgaPlate" x1="0" y1="0" x2="0" y2="1"><stop offset="0" stop-color="#d0d0d0"/><stop offset="0.5" stop-color="#a0a0a0"/><stop offset="1" stop-color="#8a8a8a"/></linearGradient>
<path d="M606,596 Q603,588 611,586 L626,584 Q630,582 636,582 L694,582 Q700,582 704,584 L719,586 Q727,588 724,596 L723,608 Q722,616 714,618 L704,620 Q700,622 694,622 L636,622 Q630,622 626,620 L616,618 Q608,616 607,608 Z" fill="#2a2a2a"/>
<path d="M608,596 Q606,589 612,588 L627,586 Q631,584 636,584 L694,584 Q699,584 703,586 L718,588 Q724,589 722,596 L721,607 Q720,614 713,616 L703,618 Q699,620 694,620 L636,620 Q631,620 627,618 L617,616 Q610,614 609,607 Z" fill="url(#gVgaPlate)"/>
<path d="M612,599 L625,599 L627,614 L614,613 Z" fill="#8a8a8a" opacity="0.6"/>
<path d="M705,599 L718,599 L716,613 L703,614 Z" fill="#8a8a8a" opacity="0.6"/>
<path d="M632,590 Q632,584.5 638,584.5 L691,584.5 Q697,584.5 697,590 L695,615 Q694.5,620.5 689,620.5 L640,620.5 Q634.5,620.5 634,615 Z" fill="#0c0c0c"/>
<path d="M636.5,596 Q636.5,592.5 640.5,592.5 L692,592.5 Q696,592.5 695.5,596 L693,615.5 Q692.5,619 689,619 L644,619 Q640.5,619 640,615.5 Z" fill="#d4d4d4"/>
<path d="M638.2,597 Q638.2,593.8 641.5,593.8 L691,593.8 Q694.5,593.8 694.3,597 L692,615 Q691.6,618 688.5,618 L644.5,618 Q641.5,618 641,615 Z" fill="#4a6cd0"/>
<circle cx="649" cy="599" r="1.9" fill="#0a0f25"/>
<circle cx="649" cy="613.9" r="1.9" fill="#0a0f25"/>
<circle cx="658" cy="599" r="1.9" fill="#0a0f25"/>
<circle cx="658" cy="613.9" r="1.9" fill="#0a0f25"/>
<circle cx="666.8" cy="599" r="1.9" fill="#0a0f25"/>
<circle cx="666.8" cy="613.9" r="1.9" fill="#0a0f25"/>
<circle cx="675.7" cy="599" r="1.9" fill="#0a0f25"/>
<circle cx="675.7" cy="613.9" r="1.9" fill="#0a0f25"/>
<circle cx="684.9" cy="599" r="1.9" fill="#0a0f25"/>
<circle cx="684.9" cy="613.9" r="1.9" fill="#0a0f25"/>
<circle cx="644.2" cy="606.5" r="1.9" fill="#0a0f25"/>
<circle cx="653.4" cy="606.5" r="1.9" fill="#0a0f25"/>
<circle cx="662.3" cy="606.5" r="1.9" fill="#0a0f25"/>
<circle cx="671.3" cy="606.5" r="1.9" fill="#0a0f25"/>
<circle cx="680.4" cy="606.5" r="1.9" fill="#0a0f25"/>
<circle cx="615.4" cy="603.8" r="7.6" fill="#3a3a3a"/>
<circle cx="615.4" cy="603.8" r="6.6" fill="#f2f2f2"/>
<circle cx="615.4" cy="603.8" r="4.4" fill="#4a4a4a"/>
<circle cx="615.8" cy="604.2" r="3" fill="#b8b8b8"/>
<circle cx="712.5" cy="603.8" r="7.6" fill="#3a3a3a"/>
<circle cx="712.5" cy="603.8" r="6.6" fill="#f2f2f2"/>
<circle cx="712.5" cy="603.8" r="4.4" fill="#4a4a4a"/>
<circle cx="712.9" cy="604.2" r="3" fill="#b8b8b8"/>
<text x="653" y="637.3" font-family="Liberation Serif, serif" font-size="16" fill="#f0f0f0" stroke="#f0f0f0" stroke-width="0.45" textLength="27.5" lengthAdjust="spacingAndGlyphs">VGA</text>
<circle cx="771.7" cy="604.3" r="17.2" fill="#1a1a1a"/>
<circle cx="772.2" cy="604.3" r="16.4" fill="#cfcfcf"/>
<circle cx="773" cy="604.5" r="15" fill="none" stroke="#8a8a8a" stroke-width="1.2"/>
<circle cx="774.4" cy="607" r="12.4" fill="#f4f4f4"/>
<circle cx="774.4" cy="607" r="11" fill="#2a2a2a"/>
<circle cx="772" cy="603.5" r="6" fill="#6a6a6a"/>
<circle cx="772.6" cy="604" r="3.2" fill="#b0b0b0"/>
<text x="757.9" y="635.5" font-family="Liberation Serif, serif" font-size="14" fill="#f0f0f0" stroke="#f0f0f0" stroke-width="0.45" textLength="30" lengthAdjust="spacingAndGlyphs">DC-12V</text>
<radialGradient id="gGold2" cx="0.4" cy="0.35" r="0.7"><stop offset="0" stop-color="#f8e8a0"/><stop offset="0.35" stop-color="#e8c458"/><stop offset="0.75" stop-color="#c89a30"/><stop offset="1" stop-color="#8a6418"/></radialGradient>
<circle cx="145" cy="655" r="18.8" fill="#7a5a18"/>
<circle cx="145" cy="655" r="17.8" fill="url(#gGold2)"/>
<path d="M133,647 L149,640 L158,651" fill="none" stroke="#5a4010" stroke-width="1" opacity="0.6"/>
<circle cx="144.7" cy="658.3" r="13.3" fill="#a07820"/>
<circle cx="144.7" cy="658.3" r="12.2" fill="url(#gGold2)"/>
<circle cx="142" cy="662" r="8.3" fill="#b89030"/>
<circle cx="142" cy="662" r="7.6" fill="#e2ddd0"/>
<circle cx="142" cy="662" r="1.7" fill="#a0661a"/>
<circle cx="857" cy="651" r="18.8" fill="#7a5a18"/>
<circle cx="857" cy="651" r="17.8" fill="url(#gGold2)"/>
<path d="M845,643 L861,636 L870,647" fill="none" stroke="#5a4010" stroke-width="1" opacity="0.6"/>
<circle cx="857.3" cy="654.3" r="13.3" fill="#a07820"/>
<circle cx="857.3" cy="654.3" r="12.2" fill="url(#gGold2)"/>
<circle cx="860" cy="658" r="8.3" fill="#b89030"/>
<circle cx="860" cy="658" r="7.6" fill="#e2ddd0"/>
<circle cx="860" cy="658" r="1.7" fill="#a0661a"/>
<g font-family="Liberation Sans, sans-serif" font-weight="bold">
<text transform="translate(549,572) skewX(-9)" x="0" y="0" font-size="64" fill="#a6a6a6" stroke="#a6a6a6" stroke-width="0.6" stroke-linejoin="round" textLength="52" lengthAdjust="spacingAndGlyphs">m</text>
<text transform="translate(641,572) skewX(-9)" x="0" y="0" font-size="64" fill="#a6a6a6" stroke="#a6a6a6" stroke-width="0.6" stroke-linejoin="round" textLength="181" lengthAdjust="spacingAndGlyphs">bilator</text>
<text transform="translate(818,572) skewX(-9)" x="0" y="0" font-size="31" font-weight="normal" fill="#c2842c" stroke="#c2842c" stroke-width="0.8" textLength="30" lengthAdjust="spacingAndGlyphs">.pl</text>
<text x="837" y="533" font-size="9.5" font-weight="normal" font-style="italic" fill="#c8c8c8" textLength="14" lengthAdjust="spacingAndGlyphs">TM</text>
</g>
<path d="M617.8,545.3 A14.2,14.2 0 1 0 635.2,545.3" fill="none" stroke="#b87a2a" stroke-width="9.5" stroke-linecap="round"/>
<path d="M628,539 L626.5,552" stroke="#a4a4a4" stroke-width="5.5" stroke-linecap="round"/>
<g stroke="#2e7878" stroke-width="3" fill="none" stroke-linejoin="round" stroke-linecap="round">
<path d="M488,106 V549.6"/>
<path d="M459,589 V549.6 H514.5 V589"/>
<path d="M574,214 V307 H538 V580 H570.5 V609.5"/>
<path d="M295.6,242 V279.5 H365.5 V593"/>
<path d="M332,624 V593 H399 V624"/>
<path d="M825,294 H877 V607 H782"/>
<path d="M940,204 V619 H806 V645 H640.5 V613"/>
<path d="M199,618 V759 H756 V679"/>
<path d="M219,684 V759"/>
<path d="M352,682 V802"/>
<path d="M486.6,682 V759"/>
<path d="M618.8,683 V759"/>
<path d="M134.4,665.6 V919 H854 V662"/>
<path d="M361,919 V873 H523"/>
</g>
<g fill="#2e7878">
<circle cx="459" cy="589" r="5.2"/>
<circle cx="514.5" cy="589" r="5.2"/>
<circle cx="570.5" cy="609.5" r="5.2"/>
<circle cx="332" cy="593" r="5.2"/>
<circle cx="332" cy="624" r="5.2"/>
<circle cx="399" cy="593" r="5.2"/>
<circle cx="399" cy="624" r="5.2"/>
<circle cx="782" cy="607" r="5.2"/>
<circle cx="640.5" cy="613" r="5.2"/>
<circle cx="199" cy="618" r="5.2"/>
<circle cx="219" cy="684" r="5.2"/>
<circle cx="352" cy="682" r="5.2"/>
<circle cx="486.6" cy="682.4" r="5.2"/>
<circle cx="618.8" cy="682.8" r="5.2"/>
<circle cx="755" cy="679" r="5.2"/>
<circle cx="134.4" cy="665.6" r="5.2"/>
<circle cx="854" cy="662" r="5.2"/>
</g>
<g font-family="Liberation Sans, sans-serif" font-weight="normal" fill="#2e7878" stroke="#2e7878" stroke-width="1.35" font-size="30.5">
<text transform="translate(401,92) scale(0.95,1)" x="0" y="0" textLength="174.7" lengthAdjust="spacing">LAN (RJ 45)</text>
<text transform="translate(527.5,203) scale(0.95,1)" x="0" y="0" textLength="86.8" lengthAdjust="spacing">HDMI</text>
<text transform="translate(907,194) scale(0.95,1)" x="0" y="0" textLength="66.3" lengthAdjust="spacing">VGA</text>
<text transform="translate(235.5,234) scale(0.95,1)" x="0" y="0" textLength="114.2" lengthAdjust="spacing">USB 3.0</text>
<text transform="translate(595,303.3) scale(0.95,1)" x="0" y="0" textLength="233.7" lengthAdjust="spacing">Zasilanie (12 V)</text>
<text transform="translate(314,835) scale(0.95,1)" x="0" y="0" textLength="75.8" lengthAdjust="spacing">COM</text>
<text transform="translate(531,886) scale(0.95,1)" x="0" y="0" textLength="268.4" lengthAdjust="spacing">Złącza anten WiFi</text>
</g>
</svg></body></html>
